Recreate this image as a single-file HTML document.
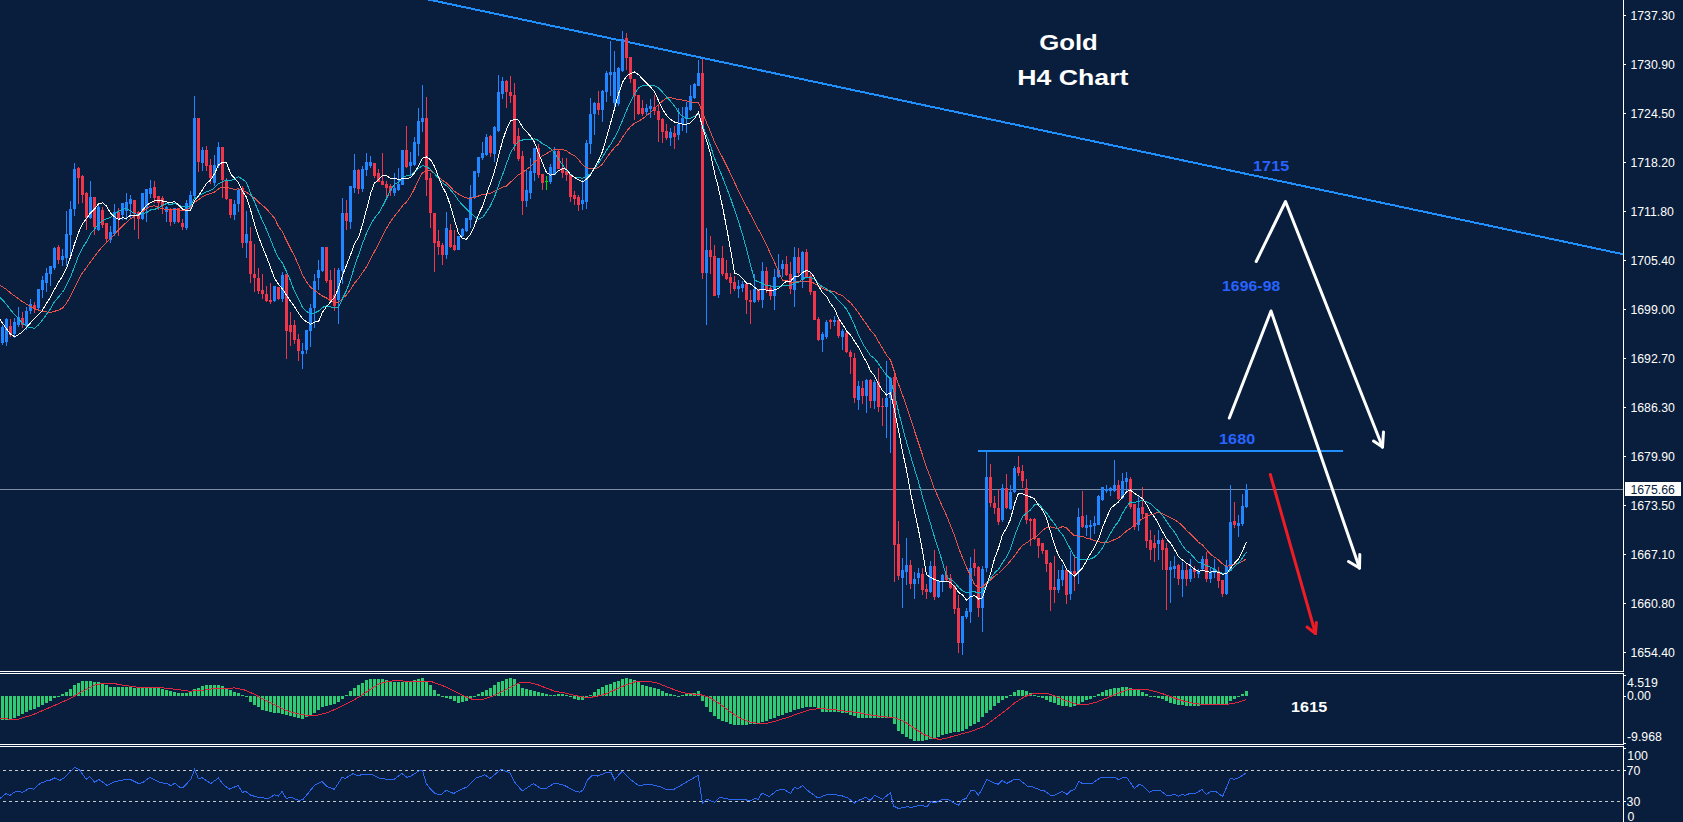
<!DOCTYPE html>
<html><head><meta charset="utf-8"><title>Gold H4 Chart</title>
<style>html,body{margin:0;padding:0;background:#081e3c;overflow:hidden}body{width:1683px;height:822px;font-family:"Liberation Sans",sans-serif}</style>
</head><body>
<svg width="1683" height="822" viewBox="0 0 1683 822" style="display:block">
<rect width="1683" height="822" fill="#081e3c"/>
<defs><clipPath id="cm"><rect x="0" y="0" width="1623" height="671"/></clipPath></defs>
<g clip-path="url(#cm)"><line x1="408" y1="-4.86" x2="1623" y2="254.2" stroke="#1e90ff" stroke-width="2" shape-rendering="crispEdges"/></g>
<rect x="978" y="450" width="365" height="2" fill="#1e90ff" shape-rendering="crispEdges"/>
<rect x="0" y="489" width="1623" height="1" fill="#7f8ea3" shape-rendering="crispEdges"/>
<g shape-rendering="crispEdges">
<rect x="2" y="325" width="1" height="20" fill="#2186ff"/>
<rect x="1" y="327" width="3" height="16" fill="#2186ff"/>
<rect x="6" y="318" width="1" height="28" fill="#2186ff"/>
<rect x="5" y="319" width="3" height="23" fill="#2186ff"/>
<rect x="10" y="319" width="1" height="18" fill="#f0364a"/>
<rect x="9" y="326" width="3" height="9" fill="#f0364a"/>
<rect x="14" y="318" width="1" height="20" fill="#2186ff"/>
<rect x="13" y="322" width="3" height="12" fill="#2186ff"/>
<rect x="18" y="307" width="1" height="20" fill="#2186ff"/>
<rect x="17" y="317" width="3" height="8" fill="#2186ff"/>
<rect x="22" y="312" width="1" height="16" fill="#f0364a"/>
<rect x="21" y="318" width="3" height="7" fill="#f0364a"/>
<rect x="26" y="307" width="1" height="23" fill="#2186ff"/>
<rect x="25" y="311" width="3" height="14" fill="#2186ff"/>
<rect x="30" y="299" width="1" height="15" fill="#2186ff"/>
<rect x="29" y="304" width="3" height="7" fill="#2186ff"/>
<rect x="34" y="302" width="1" height="11" fill="#f0364a"/>
<rect x="33" y="305" width="3" height="4" fill="#f0364a"/>
<rect x="38" y="289" width="1" height="22" fill="#2186ff"/>
<rect x="37" y="289" width="3" height="19" fill="#2186ff"/>
<rect x="42" y="276" width="1" height="22" fill="#2186ff"/>
<rect x="41" y="280" width="3" height="10" fill="#2186ff"/>
<rect x="46" y="268" width="1" height="24" fill="#2186ff"/>
<rect x="45" y="273" width="3" height="10" fill="#2186ff"/>
<rect x="50" y="266" width="1" height="20" fill="#2186ff"/>
<rect x="49" y="266" width="3" height="8" fill="#2186ff"/>
<rect x="54" y="247" width="1" height="23" fill="#2186ff"/>
<rect x="53" y="248" width="3" height="20" fill="#2186ff"/>
<rect x="58" y="245" width="1" height="19" fill="#f0364a"/>
<rect x="57" y="247" width="3" height="13" fill="#f0364a"/>
<rect x="62" y="249" width="1" height="17" fill="#2186ff"/>
<rect x="61" y="256" width="3" height="4" fill="#2186ff"/>
<rect x="66" y="211" width="1" height="55" fill="#2186ff"/>
<rect x="65" y="234" width="3" height="24" fill="#2186ff"/>
<rect x="70" y="201" width="1" height="57" fill="#2186ff"/>
<rect x="69" y="209" width="3" height="26" fill="#2186ff"/>
<rect x="74" y="163" width="1" height="53" fill="#2186ff"/>
<rect x="73" y="169" width="3" height="40" fill="#2186ff"/>
<rect x="78" y="167" width="1" height="37" fill="#f0364a"/>
<rect x="77" y="168" width="3" height="10" fill="#f0364a"/>
<rect x="82" y="175" width="1" height="28" fill="#f0364a"/>
<rect x="81" y="176" width="3" height="19" fill="#f0364a"/>
<rect x="86" y="192" width="1" height="38" fill="#f0364a"/>
<rect x="85" y="193" width="3" height="25" fill="#f0364a"/>
<rect x="90" y="181" width="1" height="38" fill="#2186ff"/>
<rect x="89" y="197" width="3" height="21" fill="#2186ff"/>
<rect x="94" y="197" width="1" height="38" fill="#f0364a"/>
<rect x="93" y="197" width="3" height="30" fill="#f0364a"/>
<rect x="98" y="205" width="1" height="26" fill="#2186ff"/>
<rect x="97" y="207" width="3" height="23" fill="#2186ff"/>
<rect x="102" y="207" width="1" height="21" fill="#f0364a"/>
<rect x="101" y="210" width="3" height="15" fill="#f0364a"/>
<rect x="106" y="223" width="1" height="19" fill="#f0364a"/>
<rect x="105" y="223" width="3" height="16" fill="#f0364a"/>
<rect x="110" y="226" width="1" height="17" fill="#2186ff"/>
<rect x="109" y="232" width="3" height="8" fill="#2186ff"/>
<rect x="114" y="204" width="1" height="32" fill="#2186ff"/>
<rect x="113" y="212" width="3" height="22" fill="#2186ff"/>
<rect x="118" y="208" width="1" height="28" fill="#f0364a"/>
<rect x="117" y="212" width="3" height="6" fill="#f0364a"/>
<rect x="122" y="203" width="1" height="17" fill="#2186ff"/>
<rect x="121" y="203" width="3" height="12" fill="#2186ff"/>
<rect x="126" y="193" width="1" height="27" fill="#2186ff"/>
<rect x="125" y="202" width="3" height="9" fill="#2186ff"/>
<rect x="130" y="195" width="1" height="23" fill="#2186ff"/>
<rect x="129" y="199" width="3" height="5" fill="#2186ff"/>
<rect x="134" y="200" width="1" height="30" fill="#f0364a"/>
<rect x="133" y="200" width="3" height="14" fill="#f0364a"/>
<rect x="138" y="211" width="1" height="28" fill="#f0364a"/>
<rect x="137" y="212" width="3" height="7" fill="#f0364a"/>
<rect x="142" y="193" width="1" height="27" fill="#2186ff"/>
<rect x="141" y="193" width="3" height="26" fill="#2186ff"/>
<rect x="146" y="189" width="1" height="33" fill="#2186ff"/>
<rect x="145" y="189" width="3" height="19" fill="#2186ff"/>
<rect x="150" y="180" width="1" height="18" fill="#2186ff"/>
<rect x="149" y="188" width="3" height="6" fill="#2186ff"/>
<rect x="154" y="181" width="1" height="22" fill="#f0364a"/>
<rect x="153" y="187" width="3" height="11" fill="#f0364a"/>
<rect x="158" y="196" width="1" height="14" fill="#f0364a"/>
<rect x="157" y="196" width="3" height="7" fill="#f0364a"/>
<rect x="162" y="196" width="1" height="18" fill="#f0364a"/>
<rect x="161" y="198" width="3" height="8" fill="#f0364a"/>
<rect x="166" y="206" width="1" height="16" fill="#2186ff"/>
<rect x="165" y="207" width="3" height="5" fill="#2186ff"/>
<rect x="170" y="208" width="1" height="18" fill="#f0364a"/>
<rect x="169" y="210" width="3" height="12" fill="#f0364a"/>
<rect x="174" y="208" width="1" height="16" fill="#2186ff"/>
<rect x="173" y="208" width="3" height="14" fill="#2186ff"/>
<rect x="178" y="208" width="1" height="15" fill="#f0364a"/>
<rect x="177" y="208" width="3" height="14" fill="#f0364a"/>
<rect x="182" y="219" width="1" height="11" fill="#f0364a"/>
<rect x="181" y="223" width="3" height="4" fill="#f0364a"/>
<rect x="186" y="200" width="1" height="30" fill="#2186ff"/>
<rect x="185" y="203" width="3" height="25" fill="#2186ff"/>
<rect x="190" y="191" width="1" height="20" fill="#2186ff"/>
<rect x="189" y="195" width="3" height="13" fill="#2186ff"/>
<rect x="194" y="96" width="1" height="102" fill="#2186ff"/>
<rect x="193" y="118" width="3" height="78" fill="#2186ff"/>
<rect x="198" y="118" width="1" height="54" fill="#f0364a"/>
<rect x="197" y="118" width="3" height="44" fill="#f0364a"/>
<rect x="202" y="147" width="1" height="24" fill="#2186ff"/>
<rect x="201" y="150" width="3" height="13" fill="#2186ff"/>
<rect x="206" y="146" width="1" height="25" fill="#f0364a"/>
<rect x="205" y="150" width="3" height="16" fill="#f0364a"/>
<rect x="210" y="159" width="1" height="25" fill="#f0364a"/>
<rect x="209" y="165" width="3" height="13" fill="#f0364a"/>
<rect x="214" y="155" width="1" height="31" fill="#2186ff"/>
<rect x="213" y="165" width="3" height="18" fill="#2186ff"/>
<rect x="218" y="142" width="1" height="26" fill="#2186ff"/>
<rect x="217" y="147" width="3" height="19" fill="#2186ff"/>
<rect x="222" y="147" width="1" height="51" fill="#f0364a"/>
<rect x="221" y="147" width="3" height="33" fill="#f0364a"/>
<rect x="226" y="178" width="1" height="22" fill="#f0364a"/>
<rect x="225" y="180" width="3" height="19" fill="#f0364a"/>
<rect x="230" y="199" width="1" height="19" fill="#f0364a"/>
<rect x="229" y="199" width="3" height="16" fill="#f0364a"/>
<rect x="234" y="200" width="1" height="20" fill="#2186ff"/>
<rect x="233" y="204" width="3" height="11" fill="#2186ff"/>
<rect x="238" y="188" width="1" height="24" fill="#2186ff"/>
<rect x="237" y="190" width="3" height="14" fill="#2186ff"/>
<rect x="242" y="186" width="1" height="62" fill="#f0364a"/>
<rect x="241" y="188" width="3" height="55" fill="#f0364a"/>
<rect x="246" y="211" width="1" height="47" fill="#2186ff"/>
<rect x="245" y="234" width="3" height="9" fill="#2186ff"/>
<rect x="250" y="227" width="1" height="56" fill="#f0364a"/>
<rect x="249" y="241" width="3" height="33" fill="#f0364a"/>
<rect x="254" y="244" width="1" height="48" fill="#f0364a"/>
<rect x="253" y="274" width="3" height="4" fill="#f0364a"/>
<rect x="258" y="268" width="1" height="26" fill="#f0364a"/>
<rect x="257" y="278" width="3" height="13" fill="#f0364a"/>
<rect x="262" y="274" width="1" height="25" fill="#f0364a"/>
<rect x="261" y="290" width="3" height="4" fill="#f0364a"/>
<rect x="266" y="286" width="1" height="16" fill="#f0364a"/>
<rect x="265" y="294" width="3" height="7" fill="#f0364a"/>
<rect x="270" y="283" width="1" height="21" fill="#f0364a"/>
<rect x="269" y="300" width="3" height="2" fill="#f0364a"/>
<rect x="274" y="286" width="1" height="16" fill="#2186ff"/>
<rect x="273" y="286" width="3" height="15" fill="#2186ff"/>
<rect x="278" y="287" width="1" height="13" fill="#f0364a"/>
<rect x="277" y="287" width="3" height="12" fill="#f0364a"/>
<rect x="282" y="272" width="1" height="30" fill="#2186ff"/>
<rect x="281" y="275" width="3" height="24" fill="#2186ff"/>
<rect x="286" y="274" width="1" height="85" fill="#f0364a"/>
<rect x="285" y="274" width="3" height="57" fill="#f0364a"/>
<rect x="290" y="312" width="1" height="34" fill="#f0364a"/>
<rect x="289" y="325" width="3" height="7" fill="#f0364a"/>
<rect x="294" y="320" width="1" height="24" fill="#f0364a"/>
<rect x="293" y="325" width="3" height="15" fill="#f0364a"/>
<rect x="298" y="334" width="1" height="27" fill="#f0364a"/>
<rect x="297" y="339" width="3" height="12" fill="#f0364a"/>
<rect x="302" y="343" width="1" height="26" fill="#2186ff"/>
<rect x="301" y="351" width="3" height="3" fill="#2186ff"/>
<rect x="306" y="330" width="1" height="24" fill="#2186ff"/>
<rect x="305" y="330" width="3" height="20" fill="#2186ff"/>
<rect x="310" y="304" width="1" height="43" fill="#2186ff"/>
<rect x="309" y="308" width="3" height="23" fill="#2186ff"/>
<rect x="314" y="274" width="1" height="54" fill="#2186ff"/>
<rect x="313" y="281" width="3" height="27" fill="#2186ff"/>
<rect x="318" y="260" width="1" height="30" fill="#2186ff"/>
<rect x="317" y="270" width="3" height="8" fill="#2186ff"/>
<rect x="322" y="247" width="1" height="25" fill="#2186ff"/>
<rect x="321" y="247" width="3" height="24" fill="#2186ff"/>
<rect x="326" y="247" width="1" height="36" fill="#f0364a"/>
<rect x="325" y="247" width="3" height="34" fill="#f0364a"/>
<rect x="330" y="270" width="1" height="32" fill="#f0364a"/>
<rect x="329" y="280" width="3" height="20" fill="#f0364a"/>
<rect x="334" y="268" width="1" height="43" fill="#f0364a"/>
<rect x="333" y="295" width="3" height="11" fill="#f0364a"/>
<rect x="338" y="268" width="1" height="56" fill="#2186ff"/>
<rect x="337" y="270" width="3" height="30" fill="#2186ff"/>
<rect x="342" y="198" width="1" height="86" fill="#2186ff"/>
<rect x="341" y="213" width="3" height="58" fill="#2186ff"/>
<rect x="346" y="200" width="1" height="30" fill="#f0364a"/>
<rect x="345" y="213" width="3" height="8" fill="#f0364a"/>
<rect x="350" y="186" width="1" height="43" fill="#2186ff"/>
<rect x="349" y="186" width="3" height="36" fill="#2186ff"/>
<rect x="354" y="154" width="1" height="39" fill="#2186ff"/>
<rect x="353" y="170" width="3" height="18" fill="#2186ff"/>
<rect x="358" y="169" width="1" height="25" fill="#f0364a"/>
<rect x="357" y="170" width="3" height="19" fill="#f0364a"/>
<rect x="362" y="166" width="1" height="26" fill="#2186ff"/>
<rect x="361" y="169" width="3" height="20" fill="#2186ff"/>
<rect x="366" y="153" width="1" height="23" fill="#2186ff"/>
<rect x="365" y="162" width="3" height="8" fill="#2186ff"/>
<rect x="370" y="156" width="1" height="12" fill="#2186ff"/>
<rect x="369" y="162" width="3" height="4" fill="#2186ff"/>
<rect x="374" y="163" width="1" height="15" fill="#f0364a"/>
<rect x="373" y="163" width="3" height="13" fill="#f0364a"/>
<rect x="378" y="169" width="1" height="13" fill="#f0364a"/>
<rect x="377" y="173" width="3" height="9" fill="#f0364a"/>
<rect x="382" y="153" width="1" height="32" fill="#f0364a"/>
<rect x="381" y="181" width="3" height="4" fill="#f0364a"/>
<rect x="386" y="181" width="1" height="16" fill="#f0364a"/>
<rect x="385" y="184" width="3" height="4" fill="#f0364a"/>
<rect x="390" y="184" width="1" height="12" fill="#f0364a"/>
<rect x="389" y="186" width="3" height="5" fill="#f0364a"/>
<rect x="394" y="173" width="1" height="23" fill="#2186ff"/>
<rect x="393" y="188" width="3" height="5" fill="#2186ff"/>
<rect x="398" y="168" width="1" height="23" fill="#2186ff"/>
<rect x="397" y="184" width="3" height="6" fill="#2186ff"/>
<rect x="402" y="150" width="1" height="35" fill="#2186ff"/>
<rect x="401" y="150" width="3" height="35" fill="#2186ff"/>
<rect x="406" y="126" width="1" height="42" fill="#f0364a"/>
<rect x="405" y="150" width="3" height="17" fill="#f0364a"/>
<rect x="410" y="152" width="1" height="24" fill="#2186ff"/>
<rect x="409" y="162" width="3" height="4" fill="#2186ff"/>
<rect x="414" y="137" width="1" height="29" fill="#2186ff"/>
<rect x="413" y="142" width="3" height="23" fill="#2186ff"/>
<rect x="418" y="108" width="1" height="48" fill="#2186ff"/>
<rect x="417" y="121" width="3" height="23" fill="#2186ff"/>
<rect x="422" y="85" width="1" height="47" fill="#2186ff"/>
<rect x="421" y="118" width="3" height="4" fill="#2186ff"/>
<rect x="426" y="97" width="1" height="99" fill="#f0364a"/>
<rect x="425" y="118" width="3" height="62" fill="#f0364a"/>
<rect x="430" y="173" width="1" height="55" fill="#f0364a"/>
<rect x="429" y="178" width="3" height="35" fill="#f0364a"/>
<rect x="434" y="213" width="1" height="59" fill="#f0364a"/>
<rect x="433" y="213" width="3" height="30" fill="#f0364a"/>
<rect x="438" y="230" width="1" height="25" fill="#f0364a"/>
<rect x="437" y="241" width="3" height="6" fill="#f0364a"/>
<rect x="442" y="243" width="1" height="22" fill="#f0364a"/>
<rect x="441" y="245" width="3" height="10" fill="#f0364a"/>
<rect x="446" y="212" width="1" height="47" fill="#2186ff"/>
<rect x="445" y="228" width="3" height="27" fill="#2186ff"/>
<rect x="450" y="224" width="1" height="24" fill="#f0364a"/>
<rect x="449" y="230" width="3" height="17" fill="#f0364a"/>
<rect x="454" y="230" width="1" height="21" fill="#f0364a"/>
<rect x="453" y="245" width="3" height="5" fill="#f0364a"/>
<rect x="458" y="236" width="1" height="14" fill="#2186ff"/>
<rect x="457" y="236" width="3" height="14" fill="#2186ff"/>
<rect x="462" y="228" width="1" height="9" fill="#2186ff"/>
<rect x="461" y="229" width="3" height="7" fill="#2186ff"/>
<rect x="466" y="218" width="1" height="14" fill="#2186ff"/>
<rect x="465" y="218" width="3" height="13" fill="#2186ff"/>
<rect x="470" y="185" width="1" height="43" fill="#2186ff"/>
<rect x="469" y="197" width="3" height="23" fill="#2186ff"/>
<rect x="474" y="171" width="1" height="28" fill="#2186ff"/>
<rect x="473" y="171" width="3" height="27" fill="#2186ff"/>
<rect x="478" y="157" width="1" height="20" fill="#2186ff"/>
<rect x="477" y="157" width="3" height="16" fill="#2186ff"/>
<rect x="482" y="142" width="1" height="18" fill="#2186ff"/>
<rect x="481" y="153" width="3" height="5" fill="#2186ff"/>
<rect x="486" y="134" width="1" height="22" fill="#2186ff"/>
<rect x="485" y="137" width="3" height="18" fill="#2186ff"/>
<rect x="490" y="135" width="1" height="22" fill="#f0364a"/>
<rect x="489" y="136" width="3" height="17" fill="#f0364a"/>
<rect x="494" y="126" width="1" height="36" fill="#2186ff"/>
<rect x="493" y="127" width="3" height="27" fill="#2186ff"/>
<rect x="498" y="75" width="1" height="57" fill="#2186ff"/>
<rect x="497" y="92" width="3" height="39" fill="#2186ff"/>
<rect x="502" y="77" width="1" height="22" fill="#2186ff"/>
<rect x="501" y="81" width="3" height="13" fill="#2186ff"/>
<rect x="506" y="80" width="1" height="28" fill="#f0364a"/>
<rect x="505" y="81" width="3" height="11" fill="#f0364a"/>
<rect x="510" y="76" width="1" height="27" fill="#f0364a"/>
<rect x="509" y="92" width="3" height="4" fill="#f0364a"/>
<rect x="514" y="83" width="1" height="68" fill="#f0364a"/>
<rect x="513" y="95" width="3" height="49" fill="#f0364a"/>
<rect x="518" y="128" width="1" height="33" fill="#f0364a"/>
<rect x="517" y="136" width="3" height="23" fill="#f0364a"/>
<rect x="522" y="151" width="1" height="64" fill="#f0364a"/>
<rect x="521" y="156" width="3" height="45" fill="#f0364a"/>
<rect x="526" y="170" width="1" height="37" fill="#2186ff"/>
<rect x="525" y="190" width="3" height="11" fill="#2186ff"/>
<rect x="530" y="158" width="1" height="41" fill="#2186ff"/>
<rect x="529" y="171" width="3" height="22" fill="#2186ff"/>
<rect x="534" y="148" width="1" height="33" fill="#2186ff"/>
<rect x="533" y="148" width="3" height="25" fill="#2186ff"/>
<rect x="538" y="144" width="1" height="34" fill="#f0364a"/>
<rect x="537" y="148" width="3" height="27" fill="#f0364a"/>
<rect x="542" y="174" width="1" height="16" fill="#f0364a"/>
<rect x="541" y="174" width="3" height="9" fill="#f0364a"/>
<rect x="546" y="176" width="1" height="14" fill="#00e000"/>
<rect x="545" y="181" width="3" height="1" fill="#00e000"/>
<rect x="550" y="164" width="1" height="20" fill="#2186ff"/>
<rect x="549" y="167" width="3" height="15" fill="#2186ff"/>
<rect x="554" y="147" width="1" height="28" fill="#2186ff"/>
<rect x="553" y="151" width="3" height="24" fill="#2186ff"/>
<rect x="558" y="150" width="1" height="19" fill="#f0364a"/>
<rect x="557" y="151" width="3" height="18" fill="#f0364a"/>
<rect x="562" y="158" width="1" height="20" fill="#f0364a"/>
<rect x="561" y="168" width="3" height="5" fill="#f0364a"/>
<rect x="566" y="158" width="1" height="23" fill="#f0364a"/>
<rect x="565" y="171" width="3" height="4" fill="#f0364a"/>
<rect x="570" y="174" width="1" height="28" fill="#f0364a"/>
<rect x="569" y="174" width="3" height="23" fill="#f0364a"/>
<rect x="574" y="191" width="1" height="14" fill="#f0364a"/>
<rect x="573" y="195" width="3" height="4" fill="#f0364a"/>
<rect x="578" y="195" width="1" height="16" fill="#f0364a"/>
<rect x="577" y="197" width="3" height="8" fill="#f0364a"/>
<rect x="582" y="180" width="1" height="30" fill="#2186ff"/>
<rect x="581" y="200" width="3" height="4" fill="#2186ff"/>
<rect x="586" y="140" width="1" height="69" fill="#2186ff"/>
<rect x="585" y="143" width="3" height="59" fill="#2186ff"/>
<rect x="590" y="98" width="1" height="56" fill="#2186ff"/>
<rect x="589" y="114" width="3" height="30" fill="#2186ff"/>
<rect x="594" y="102" width="1" height="33" fill="#2186ff"/>
<rect x="593" y="103" width="3" height="11" fill="#2186ff"/>
<rect x="598" y="91" width="1" height="24" fill="#f0364a"/>
<rect x="597" y="103" width="3" height="7" fill="#f0364a"/>
<rect x="602" y="90" width="1" height="32" fill="#2186ff"/>
<rect x="601" y="91" width="3" height="19" fill="#2186ff"/>
<rect x="606" y="71" width="1" height="31" fill="#2186ff"/>
<rect x="605" y="73" width="3" height="19" fill="#2186ff"/>
<rect x="610" y="41" width="1" height="55" fill="#2186ff"/>
<rect x="609" y="72" width="3" height="3" fill="#2186ff"/>
<rect x="614" y="51" width="1" height="60" fill="#2186ff"/>
<rect x="613" y="72" width="3" height="31" fill="#2186ff"/>
<rect x="618" y="67" width="1" height="39" fill="#2186ff"/>
<rect x="617" y="68" width="3" height="36" fill="#2186ff"/>
<rect x="622" y="31" width="1" height="41" fill="#2186ff"/>
<rect x="621" y="39" width="3" height="32" fill="#2186ff"/>
<rect x="626" y="33" width="1" height="37" fill="#f0364a"/>
<rect x="625" y="38" width="3" height="20" fill="#f0364a"/>
<rect x="630" y="57" width="1" height="26" fill="#f0364a"/>
<rect x="629" y="57" width="3" height="22" fill="#f0364a"/>
<rect x="634" y="79" width="1" height="41" fill="#f0364a"/>
<rect x="633" y="79" width="3" height="17" fill="#f0364a"/>
<rect x="638" y="95" width="1" height="20" fill="#f0364a"/>
<rect x="637" y="95" width="3" height="19" fill="#f0364a"/>
<rect x="642" y="100" width="1" height="16" fill="#f0364a"/>
<rect x="641" y="108" width="3" height="6" fill="#f0364a"/>
<rect x="646" y="104" width="1" height="12" fill="#2186ff"/>
<rect x="645" y="108" width="3" height="4" fill="#2186ff"/>
<rect x="650" y="99" width="1" height="19" fill="#2186ff"/>
<rect x="649" y="106" width="3" height="3" fill="#2186ff"/>
<rect x="654" y="95" width="1" height="20" fill="#f0364a"/>
<rect x="653" y="107" width="3" height="4" fill="#f0364a"/>
<rect x="658" y="104" width="1" height="38" fill="#f0364a"/>
<rect x="657" y="111" width="3" height="9" fill="#f0364a"/>
<rect x="662" y="118" width="1" height="25" fill="#f0364a"/>
<rect x="661" y="119" width="3" height="13" fill="#f0364a"/>
<rect x="666" y="124" width="1" height="16" fill="#f0364a"/>
<rect x="665" y="131" width="3" height="7" fill="#f0364a"/>
<rect x="670" y="128" width="1" height="18" fill="#2186ff"/>
<rect x="669" y="132" width="3" height="6" fill="#2186ff"/>
<rect x="674" y="126" width="1" height="23" fill="#f0364a"/>
<rect x="673" y="133" width="3" height="4" fill="#f0364a"/>
<rect x="678" y="108" width="1" height="32" fill="#2186ff"/>
<rect x="677" y="124" width="3" height="11" fill="#2186ff"/>
<rect x="682" y="107" width="1" height="24" fill="#2186ff"/>
<rect x="681" y="118" width="3" height="6" fill="#2186ff"/>
<rect x="686" y="102" width="1" height="31" fill="#2186ff"/>
<rect x="685" y="107" width="3" height="12" fill="#2186ff"/>
<rect x="690" y="85" width="1" height="26" fill="#2186ff"/>
<rect x="689" y="96" width="3" height="14" fill="#2186ff"/>
<rect x="694" y="83" width="1" height="16" fill="#2186ff"/>
<rect x="693" y="84" width="3" height="14" fill="#2186ff"/>
<rect x="698" y="60" width="1" height="26" fill="#2186ff"/>
<rect x="697" y="73" width="3" height="13" fill="#2186ff"/>
<rect x="702" y="59" width="1" height="220" fill="#f0364a"/>
<rect x="701" y="73" width="3" height="200" fill="#f0364a"/>
<rect x="706" y="228" width="1" height="97" fill="#2186ff"/>
<rect x="705" y="250" width="3" height="23" fill="#2186ff"/>
<rect x="710" y="236" width="1" height="38" fill="#f0364a"/>
<rect x="709" y="250" width="3" height="7" fill="#f0364a"/>
<rect x="714" y="245" width="1" height="51" fill="#f0364a"/>
<rect x="713" y="256" width="3" height="40" fill="#f0364a"/>
<rect x="718" y="258" width="1" height="40" fill="#2186ff"/>
<rect x="717" y="258" width="3" height="37" fill="#2186ff"/>
<rect x="722" y="246" width="1" height="30" fill="#f0364a"/>
<rect x="721" y="258" width="3" height="16" fill="#f0364a"/>
<rect x="726" y="260" width="1" height="20" fill="#f0364a"/>
<rect x="725" y="273" width="3" height="6" fill="#f0364a"/>
<rect x="730" y="273" width="1" height="21" fill="#f0364a"/>
<rect x="729" y="277" width="3" height="6" fill="#f0364a"/>
<rect x="734" y="276" width="1" height="15" fill="#f0364a"/>
<rect x="733" y="282" width="3" height="7" fill="#f0364a"/>
<rect x="738" y="280" width="1" height="18" fill="#2186ff"/>
<rect x="737" y="286" width="3" height="3" fill="#2186ff"/>
<rect x="742" y="281" width="1" height="11" fill="#2186ff"/>
<rect x="741" y="284" width="3" height="4" fill="#2186ff"/>
<rect x="746" y="284" width="1" height="30" fill="#f0364a"/>
<rect x="745" y="284" width="3" height="16" fill="#f0364a"/>
<rect x="750" y="290" width="1" height="34" fill="#f0364a"/>
<rect x="749" y="300" width="3" height="2" fill="#f0364a"/>
<rect x="754" y="274" width="1" height="29" fill="#2186ff"/>
<rect x="753" y="289" width="3" height="13" fill="#2186ff"/>
<rect x="758" y="289" width="1" height="13" fill="#f0364a"/>
<rect x="757" y="289" width="3" height="11" fill="#f0364a"/>
<rect x="762" y="262" width="1" height="46" fill="#2186ff"/>
<rect x="761" y="271" width="3" height="29" fill="#2186ff"/>
<rect x="766" y="267" width="1" height="26" fill="#f0364a"/>
<rect x="765" y="271" width="3" height="19" fill="#f0364a"/>
<rect x="770" y="285" width="1" height="15" fill="#f0364a"/>
<rect x="769" y="288" width="3" height="8" fill="#f0364a"/>
<rect x="774" y="269" width="1" height="41" fill="#2186ff"/>
<rect x="773" y="277" width="3" height="19" fill="#2186ff"/>
<rect x="778" y="254" width="1" height="24" fill="#2186ff"/>
<rect x="777" y="270" width="3" height="7" fill="#2186ff"/>
<rect x="782" y="260" width="1" height="17" fill="#2186ff"/>
<rect x="781" y="264" width="3" height="5" fill="#2186ff"/>
<rect x="786" y="256" width="1" height="20" fill="#f0364a"/>
<rect x="785" y="264" width="3" height="11" fill="#f0364a"/>
<rect x="790" y="262" width="1" height="32" fill="#f0364a"/>
<rect x="789" y="274" width="3" height="15" fill="#f0364a"/>
<rect x="794" y="247" width="1" height="60" fill="#2186ff"/>
<rect x="793" y="257" width="3" height="33" fill="#2186ff"/>
<rect x="798" y="248" width="1" height="28" fill="#f0364a"/>
<rect x="797" y="257" width="3" height="16" fill="#f0364a"/>
<rect x="802" y="251" width="1" height="37" fill="#2186ff"/>
<rect x="801" y="252" width="3" height="28" fill="#2186ff"/>
<rect x="806" y="249" width="1" height="29" fill="#f0364a"/>
<rect x="805" y="252" width="3" height="25" fill="#f0364a"/>
<rect x="810" y="272" width="1" height="23" fill="#f0364a"/>
<rect x="809" y="276" width="3" height="16" fill="#f0364a"/>
<rect x="814" y="291" width="1" height="29" fill="#f0364a"/>
<rect x="813" y="291" width="3" height="29" fill="#f0364a"/>
<rect x="818" y="317" width="1" height="24" fill="#f0364a"/>
<rect x="817" y="319" width="3" height="21" fill="#f0364a"/>
<rect x="822" y="332" width="1" height="20" fill="#2186ff"/>
<rect x="821" y="334" width="3" height="6" fill="#2186ff"/>
<rect x="826" y="320" width="1" height="19" fill="#2186ff"/>
<rect x="825" y="322" width="3" height="15" fill="#2186ff"/>
<rect x="830" y="319" width="1" height="10" fill="#f0364a"/>
<rect x="829" y="320" width="3" height="2" fill="#f0364a"/>
<rect x="834" y="316" width="1" height="10" fill="#2186ff"/>
<rect x="833" y="320" width="3" height="2" fill="#2186ff"/>
<rect x="838" y="318" width="1" height="20" fill="#f0364a"/>
<rect x="837" y="320" width="3" height="16" fill="#f0364a"/>
<rect x="842" y="329" width="1" height="21" fill="#2186ff"/>
<rect x="841" y="331" width="3" height="6" fill="#2186ff"/>
<rect x="846" y="330" width="1" height="23" fill="#f0364a"/>
<rect x="845" y="333" width="3" height="19" fill="#f0364a"/>
<rect x="850" y="350" width="1" height="24" fill="#f0364a"/>
<rect x="849" y="352" width="3" height="5" fill="#f0364a"/>
<rect x="854" y="353" width="1" height="50" fill="#f0364a"/>
<rect x="853" y="358" width="3" height="40" fill="#f0364a"/>
<rect x="858" y="381" width="1" height="29" fill="#2186ff"/>
<rect x="857" y="386" width="3" height="14" fill="#2186ff"/>
<rect x="862" y="381" width="1" height="23" fill="#f0364a"/>
<rect x="861" y="388" width="3" height="8" fill="#f0364a"/>
<rect x="866" y="379" width="1" height="34" fill="#2186ff"/>
<rect x="865" y="380" width="3" height="16" fill="#2186ff"/>
<rect x="870" y="379" width="1" height="29" fill="#f0364a"/>
<rect x="869" y="380" width="3" height="21" fill="#f0364a"/>
<rect x="874" y="380" width="1" height="29" fill="#2186ff"/>
<rect x="873" y="382" width="3" height="19" fill="#2186ff"/>
<rect x="878" y="368" width="1" height="44" fill="#f0364a"/>
<rect x="877" y="382" width="3" height="25" fill="#f0364a"/>
<rect x="882" y="398" width="1" height="28" fill="#f0364a"/>
<rect x="881" y="406" width="3" height="1" fill="#f0364a"/>
<rect x="886" y="361" width="1" height="77" fill="#2186ff"/>
<rect x="885" y="398" width="3" height="9" fill="#2186ff"/>
<rect x="890" y="377" width="1" height="76" fill="#2186ff"/>
<rect x="889" y="378" width="3" height="20" fill="#2186ff"/>
<rect x="894" y="374" width="1" height="208" fill="#f0364a"/>
<rect x="893" y="377" width="3" height="168" fill="#f0364a"/>
<rect x="898" y="521" width="1" height="59" fill="#f0364a"/>
<rect x="897" y="544" width="3" height="32" fill="#f0364a"/>
<rect x="902" y="558" width="1" height="50" fill="#2186ff"/>
<rect x="901" y="570" width="3" height="8" fill="#2186ff"/>
<rect x="906" y="538" width="1" height="47" fill="#2186ff"/>
<rect x="905" y="565" width="3" height="7" fill="#2186ff"/>
<rect x="910" y="560" width="1" height="29" fill="#f0364a"/>
<rect x="909" y="565" width="3" height="19" fill="#f0364a"/>
<rect x="914" y="572" width="1" height="27" fill="#2186ff"/>
<rect x="913" y="579" width="3" height="5" fill="#2186ff"/>
<rect x="918" y="568" width="1" height="16" fill="#2186ff"/>
<rect x="917" y="573" width="3" height="5" fill="#2186ff"/>
<rect x="922" y="568" width="1" height="27" fill="#f0364a"/>
<rect x="921" y="574" width="3" height="16" fill="#f0364a"/>
<rect x="926" y="584" width="1" height="15" fill="#f0364a"/>
<rect x="925" y="589" width="3" height="3" fill="#f0364a"/>
<rect x="930" y="561" width="1" height="32" fill="#2186ff"/>
<rect x="929" y="566" width="3" height="26" fill="#2186ff"/>
<rect x="934" y="550" width="1" height="50" fill="#f0364a"/>
<rect x="933" y="566" width="3" height="31" fill="#f0364a"/>
<rect x="938" y="580" width="1" height="18" fill="#2186ff"/>
<rect x="937" y="581" width="3" height="16" fill="#2186ff"/>
<rect x="942" y="574" width="1" height="18" fill="#2186ff"/>
<rect x="941" y="575" width="3" height="6" fill="#2186ff"/>
<rect x="946" y="566" width="1" height="16" fill="#f0364a"/>
<rect x="945" y="575" width="3" height="5" fill="#f0364a"/>
<rect x="950" y="574" width="1" height="15" fill="#f0364a"/>
<rect x="949" y="578" width="3" height="10" fill="#f0364a"/>
<rect x="954" y="585" width="1" height="29" fill="#f0364a"/>
<rect x="953" y="586" width="3" height="23" fill="#f0364a"/>
<rect x="958" y="595" width="1" height="58" fill="#f0364a"/>
<rect x="957" y="608" width="3" height="35" fill="#f0364a"/>
<rect x="962" y="616" width="1" height="39" fill="#2186ff"/>
<rect x="961" y="616" width="3" height="27" fill="#2186ff"/>
<rect x="966" y="608" width="1" height="11" fill="#2186ff"/>
<rect x="965" y="611" width="3" height="6" fill="#2186ff"/>
<rect x="970" y="557" width="1" height="66" fill="#2186ff"/>
<rect x="969" y="568" width="3" height="44" fill="#2186ff"/>
<rect x="974" y="549" width="1" height="27" fill="#f0364a"/>
<rect x="973" y="563" width="3" height="5" fill="#f0364a"/>
<rect x="978" y="566" width="1" height="51" fill="#f0364a"/>
<rect x="977" y="567" width="3" height="41" fill="#f0364a"/>
<rect x="982" y="566" width="1" height="66" fill="#2186ff"/>
<rect x="981" y="569" width="3" height="39" fill="#2186ff"/>
<rect x="986" y="451" width="1" height="121" fill="#2186ff"/>
<rect x="985" y="477" width="3" height="91" fill="#2186ff"/>
<rect x="990" y="464" width="1" height="43" fill="#f0364a"/>
<rect x="989" y="477" width="3" height="26" fill="#f0364a"/>
<rect x="994" y="496" width="1" height="18" fill="#f0364a"/>
<rect x="993" y="503" width="3" height="5" fill="#f0364a"/>
<rect x="998" y="489" width="1" height="36" fill="#f0364a"/>
<rect x="997" y="508" width="3" height="14" fill="#f0364a"/>
<rect x="1002" y="484" width="1" height="38" fill="#2186ff"/>
<rect x="1001" y="488" width="3" height="32" fill="#2186ff"/>
<rect x="1006" y="474" width="1" height="35" fill="#f0364a"/>
<rect x="1005" y="488" width="3" height="20" fill="#f0364a"/>
<rect x="1010" y="485" width="1" height="25" fill="#2186ff"/>
<rect x="1009" y="492" width="3" height="17" fill="#2186ff"/>
<rect x="1014" y="466" width="1" height="27" fill="#2186ff"/>
<rect x="1013" y="468" width="3" height="24" fill="#2186ff"/>
<rect x="1018" y="456" width="1" height="20" fill="#f0364a"/>
<rect x="1017" y="467" width="3" height="6" fill="#f0364a"/>
<rect x="1022" y="465" width="1" height="23" fill="#f0364a"/>
<rect x="1021" y="471" width="3" height="10" fill="#f0364a"/>
<rect x="1026" y="479" width="1" height="45" fill="#f0364a"/>
<rect x="1025" y="488" width="3" height="32" fill="#f0364a"/>
<rect x="1030" y="518" width="1" height="28" fill="#f0364a"/>
<rect x="1029" y="519" width="3" height="2" fill="#f0364a"/>
<rect x="1034" y="518" width="1" height="22" fill="#f0364a"/>
<rect x="1033" y="519" width="3" height="20" fill="#f0364a"/>
<rect x="1038" y="538" width="1" height="20" fill="#f0364a"/>
<rect x="1037" y="538" width="3" height="8" fill="#f0364a"/>
<rect x="1042" y="543" width="1" height="11" fill="#f0364a"/>
<rect x="1041" y="543" width="3" height="8" fill="#f0364a"/>
<rect x="1046" y="550" width="1" height="22" fill="#f0364a"/>
<rect x="1045" y="550" width="3" height="14" fill="#f0364a"/>
<rect x="1050" y="562" width="1" height="49" fill="#f0364a"/>
<rect x="1049" y="563" width="3" height="27" fill="#f0364a"/>
<rect x="1054" y="556" width="1" height="47" fill="#f0364a"/>
<rect x="1053" y="587" width="3" height="3" fill="#f0364a"/>
<rect x="1058" y="570" width="1" height="23" fill="#2186ff"/>
<rect x="1057" y="579" width="3" height="11" fill="#2186ff"/>
<rect x="1062" y="565" width="1" height="21" fill="#2186ff"/>
<rect x="1061" y="570" width="3" height="10" fill="#2186ff"/>
<rect x="1066" y="568" width="1" height="36" fill="#f0364a"/>
<rect x="1065" y="570" width="3" height="25" fill="#f0364a"/>
<rect x="1070" y="551" width="1" height="49" fill="#2186ff"/>
<rect x="1069" y="571" width="3" height="23" fill="#2186ff"/>
<rect x="1074" y="555" width="1" height="36" fill="#f0364a"/>
<rect x="1073" y="571" width="3" height="3" fill="#f0364a"/>
<rect x="1078" y="508" width="1" height="76" fill="#2186ff"/>
<rect x="1077" y="517" width="3" height="55" fill="#2186ff"/>
<rect x="1082" y="491" width="1" height="37" fill="#f0364a"/>
<rect x="1081" y="516" width="3" height="11" fill="#f0364a"/>
<rect x="1086" y="515" width="1" height="21" fill="#2186ff"/>
<rect x="1085" y="525" width="3" height="3" fill="#2186ff"/>
<rect x="1090" y="520" width="1" height="20" fill="#2186ff"/>
<rect x="1089" y="525" width="3" height="2" fill="#2186ff"/>
<rect x="1094" y="516" width="1" height="18" fill="#2186ff"/>
<rect x="1093" y="523" width="3" height="3" fill="#2186ff"/>
<rect x="1098" y="495" width="1" height="30" fill="#2186ff"/>
<rect x="1097" y="496" width="3" height="29" fill="#2186ff"/>
<rect x="1102" y="487" width="1" height="14" fill="#2186ff"/>
<rect x="1101" y="487" width="3" height="13" fill="#2186ff"/>
<rect x="1106" y="485" width="1" height="8" fill="#2186ff"/>
<rect x="1105" y="489" width="3" height="2" fill="#2186ff"/>
<rect x="1110" y="487" width="1" height="9" fill="#2186ff"/>
<rect x="1109" y="488" width="3" height="3" fill="#2186ff"/>
<rect x="1114" y="460" width="1" height="32" fill="#2186ff"/>
<rect x="1113" y="485" width="3" height="6" fill="#2186ff"/>
<rect x="1118" y="480" width="1" height="20" fill="#f0364a"/>
<rect x="1117" y="485" width="3" height="14" fill="#f0364a"/>
<rect x="1122" y="473" width="1" height="26" fill="#2186ff"/>
<rect x="1121" y="481" width="3" height="17" fill="#2186ff"/>
<rect x="1126" y="472" width="1" height="19" fill="#2186ff"/>
<rect x="1125" y="478" width="3" height="4" fill="#2186ff"/>
<rect x="1130" y="477" width="1" height="32" fill="#f0364a"/>
<rect x="1129" y="479" width="3" height="28" fill="#f0364a"/>
<rect x="1134" y="504" width="1" height="26" fill="#f0364a"/>
<rect x="1133" y="504" width="3" height="23" fill="#f0364a"/>
<rect x="1138" y="496" width="1" height="35" fill="#2186ff"/>
<rect x="1137" y="508" width="3" height="17" fill="#2186ff"/>
<rect x="1142" y="487" width="1" height="32" fill="#f0364a"/>
<rect x="1141" y="507" width="3" height="7" fill="#f0364a"/>
<rect x="1146" y="513" width="1" height="35" fill="#f0364a"/>
<rect x="1145" y="513" width="3" height="28" fill="#f0364a"/>
<rect x="1150" y="530" width="1" height="30" fill="#f0364a"/>
<rect x="1149" y="540" width="3" height="10" fill="#f0364a"/>
<rect x="1154" y="535" width="1" height="27" fill="#f0364a"/>
<rect x="1153" y="543" width="3" height="5" fill="#f0364a"/>
<rect x="1158" y="530" width="1" height="30" fill="#2186ff"/>
<rect x="1157" y="540" width="3" height="4" fill="#2186ff"/>
<rect x="1162" y="538" width="1" height="32" fill="#f0364a"/>
<rect x="1161" y="540" width="3" height="10" fill="#f0364a"/>
<rect x="1166" y="543" width="1" height="67" fill="#f0364a"/>
<rect x="1165" y="548" width="3" height="22" fill="#f0364a"/>
<rect x="1170" y="561" width="1" height="42" fill="#2186ff"/>
<rect x="1169" y="567" width="3" height="3" fill="#2186ff"/>
<rect x="1174" y="556" width="1" height="22" fill="#2186ff"/>
<rect x="1173" y="566" width="3" height="3" fill="#2186ff"/>
<rect x="1178" y="564" width="1" height="21" fill="#f0364a"/>
<rect x="1177" y="565" width="3" height="14" fill="#f0364a"/>
<rect x="1182" y="562" width="1" height="35" fill="#2186ff"/>
<rect x="1181" y="570" width="3" height="9" fill="#2186ff"/>
<rect x="1186" y="564" width="1" height="22" fill="#f0364a"/>
<rect x="1185" y="570" width="3" height="9" fill="#f0364a"/>
<rect x="1190" y="559" width="1" height="23" fill="#2186ff"/>
<rect x="1189" y="569" width="3" height="10" fill="#2186ff"/>
<rect x="1194" y="566" width="1" height="12" fill="#f0364a"/>
<rect x="1193" y="569" width="3" height="3" fill="#f0364a"/>
<rect x="1198" y="569" width="1" height="9" fill="#2186ff"/>
<rect x="1197" y="571" width="3" height="3" fill="#2186ff"/>
<rect x="1202" y="556" width="1" height="14" fill="#2186ff"/>
<rect x="1201" y="559" width="3" height="10" fill="#2186ff"/>
<rect x="1206" y="552" width="1" height="30" fill="#f0364a"/>
<rect x="1205" y="559" width="3" height="20" fill="#f0364a"/>
<rect x="1210" y="567" width="1" height="16" fill="#2186ff"/>
<rect x="1209" y="572" width="3" height="7" fill="#2186ff"/>
<rect x="1214" y="559" width="1" height="19" fill="#2186ff"/>
<rect x="1213" y="570" width="3" height="3" fill="#2186ff"/>
<rect x="1218" y="567" width="1" height="21" fill="#f0364a"/>
<rect x="1217" y="571" width="3" height="10" fill="#f0364a"/>
<rect x="1222" y="580" width="1" height="17" fill="#f0364a"/>
<rect x="1221" y="580" width="3" height="14" fill="#f0364a"/>
<rect x="1226" y="560" width="1" height="35" fill="#2186ff"/>
<rect x="1225" y="566" width="3" height="28" fill="#2186ff"/>
<rect x="1230" y="485" width="1" height="86" fill="#2186ff"/>
<rect x="1229" y="522" width="3" height="49" fill="#2186ff"/>
<rect x="1234" y="502" width="1" height="26" fill="#f0364a"/>
<rect x="1233" y="521" width="3" height="4" fill="#f0364a"/>
<rect x="1238" y="515" width="1" height="22" fill="#2186ff"/>
<rect x="1237" y="523" width="3" height="3" fill="#2186ff"/>
<rect x="1242" y="494" width="1" height="32" fill="#2186ff"/>
<rect x="1241" y="506" width="3" height="18" fill="#2186ff"/>
<rect x="1246" y="484" width="1" height="24" fill="#2186ff"/>
<rect x="1245" y="489" width="3" height="18" fill="#2186ff"/>
</g>
<polyline points="0.0,285.1 2.5,286.8 6.5,289.5 10.5,293.0 14.5,295.9 18.5,298.6 22.5,301.7 26.5,304.1 30.5,306.3 34.5,308.8 38.5,310.3 42.5,311.3 46.5,312.0 50.5,312.3 54.5,311.3 58.5,310.1 62.5,308.0 66.5,303.1 70.5,296.4 74.5,287.8 78.5,279.8 82.5,272.7 86.5,267.5 90.5,261.7 94.5,256.5 98.5,251.0 102.5,246.7 106.5,242.6 110.5,238.8 114.5,234.4 118.5,230.1 122.5,226.0 126.5,222.3 130.5,218.8 134.5,216.3 138.5,214.9 142.5,211.7 146.5,208.5 150.5,206.3 154.5,205.8 158.5,207.4 162.5,208.8 166.5,209.3 170.5,209.5 174.5,210.0 178.5,209.8 182.5,210.8 186.5,209.7 190.5,207.6 194.5,202.2 198.5,199.8 202.5,196.6 206.5,194.8 210.5,193.7 214.5,192.0 218.5,188.9 222.5,187.0 226.5,187.3 230.5,188.5 234.5,189.3 238.5,188.9 242.5,190.8 246.5,192.1 250.5,195.3 254.5,198.0 258.5,202.0 262.5,205.4 266.5,208.9 270.5,213.6 274.5,218.0 278.5,226.6 282.5,232.0 286.5,240.6 290.5,248.5 294.5,256.2 298.5,265.0 302.5,274.8 306.5,281.9 310.5,287.1 314.5,290.2 318.5,293.4 322.5,296.1 326.5,297.9 330.5,301.0 334.5,302.6 338.5,302.2 342.5,298.5 346.5,295.0 350.5,289.5 354.5,283.2 358.5,278.6 362.5,272.4 366.5,267.0 370.5,259.0 374.5,251.6 378.5,244.0 382.5,236.1 386.5,228.4 390.5,221.8 394.5,216.0 398.5,211.4 402.5,205.7 406.5,201.9 410.5,196.2 414.5,188.7 418.5,179.9 422.5,172.7 426.5,171.1 430.5,170.7 434.5,173.4 438.5,177.1 442.5,180.2 446.5,183.0 450.5,187.1 454.5,191.3 458.5,194.1 462.5,196.4 466.5,198.0 470.5,198.4 474.5,197.4 478.5,196.0 482.5,194.5 486.5,193.9 490.5,193.2 494.5,191.5 498.5,189.1 502.5,187.2 506.5,186.0 510.5,182.0 514.5,178.7 518.5,174.7 522.5,172.5 526.5,169.4 530.5,166.7 534.5,162.0 538.5,158.4 542.5,155.9 546.5,153.7 550.5,151.2 554.5,149.0 558.5,149.0 562.5,149.7 566.5,150.8 570.5,153.6 574.5,155.8 578.5,159.5 582.5,164.7 586.5,167.6 590.5,168.7 594.5,169.0 598.5,167.4 602.5,164.1 606.5,158.0 610.5,152.4 614.5,147.7 618.5,143.9 622.5,137.4 626.5,131.5 630.5,126.6 634.5,123.2 638.5,121.4 642.5,118.8 646.5,115.7 650.5,112.4 654.5,108.3 658.5,104.6 662.5,101.1 666.5,98.1 670.5,97.6 674.5,98.7 678.5,99.7 682.5,100.1 686.5,100.9 690.5,102.0 694.5,102.5 698.5,102.6 702.5,112.3 706.5,122.4 710.5,131.9 714.5,142.2 718.5,149.9 722.5,157.5 726.5,165.4 730.5,173.7 734.5,182.4 738.5,190.8 742.5,198.6 746.5,206.6 750.5,214.4 754.5,221.9 758.5,229.6 762.5,236.6 766.5,244.8 770.5,253.8 774.5,262.4 778.5,271.3 782.5,280.4 786.5,280.5 790.5,282.3 794.5,282.3 798.5,281.2 802.5,281.0 806.5,281.1 810.5,281.7 814.5,283.5 818.5,285.9 822.5,288.2 826.5,290.0 830.5,291.0 834.5,291.9 838.5,294.1 842.5,295.6 846.5,299.5 850.5,302.7 854.5,307.5 858.5,312.7 862.5,318.7 866.5,324.2 870.5,330.2 874.5,334.7 878.5,341.8 882.5,348.2 886.5,355.1 890.5,360.0 894.5,372.0 898.5,384.2 902.5,395.1 906.5,406.1 910.5,418.6 914.5,430.9 918.5,442.9 922.5,455.0 926.5,467.4 930.5,477.6 934.5,489.0 938.5,497.8 942.5,506.8 946.5,515.5 950.5,525.4 954.5,535.3 958.5,547.8 962.5,557.7 966.5,567.4 970.5,575.5 974.5,584.6 978.5,587.6 982.5,587.2 986.5,582.8 990.5,579.9 994.5,576.2 998.5,573.5 1002.5,569.5 1006.5,565.6 1010.5,560.8 1014.5,556.1 1018.5,550.2 1022.5,545.5 1026.5,542.9 1030.5,540.0 1034.5,537.7 1038.5,534.7 1042.5,530.3 1046.5,527.9 1050.5,526.9 1054.5,527.9 1058.5,528.4 1062.5,526.6 1066.5,527.9 1070.5,532.3 1074.5,535.7 1078.5,536.1 1082.5,536.4 1086.5,538.1 1090.5,539.0 1094.5,540.4 1098.5,541.8 1102.5,542.4 1106.5,542.8 1110.5,541.3 1114.5,539.6 1118.5,537.7 1122.5,534.6 1126.5,531.1 1130.5,528.4 1134.5,525.4 1138.5,521.5 1142.5,518.4 1146.5,517.0 1150.5,514.9 1154.5,513.8 1158.5,512.1 1162.5,513.7 1166.5,515.8 1170.5,517.8 1174.5,519.7 1178.5,522.4 1182.5,525.9 1186.5,530.3 1190.5,534.1 1194.5,538.1 1198.5,542.2 1202.5,545.0 1206.5,549.7 1210.5,554.2 1214.5,557.2 1218.5,559.8 1222.5,563.9 1226.5,566.3 1230.5,565.4 1234.5,564.2 1238.5,563.0 1242.5,561.4 1246.5,558.5" fill="none" stroke="#e5534b" stroke-width="1" shape-rendering="crispEdges"/>
<polyline points="0.0,297.3 2.5,300.0 6.5,304.4 10.5,309.9 14.5,314.5 18.5,318.6 22.5,323.3 26.5,326.4 30.5,327.7 34.5,328.2 38.5,324.9 42.5,319.9 46.5,314.4 50.5,308.7 54.5,301.8 58.5,297.0 62.5,292.5 66.5,285.3 70.5,277.2 74.5,266.6 78.5,256.1 82.5,247.9 86.5,241.7 90.5,233.7 94.5,229.3 98.5,224.1 102.5,220.6 106.5,218.7 110.5,217.6 114.5,214.1 118.5,211.4 122.5,209.2 126.5,208.7 130.5,210.9 134.5,213.4 138.5,215.1 142.5,213.4 146.5,212.8 150.5,210.0 154.5,209.4 158.5,207.8 162.5,205.4 166.5,203.6 170.5,204.4 174.5,203.6 178.5,205.0 182.5,206.8 186.5,207.1 190.5,205.7 194.5,198.5 198.5,196.3 202.5,193.5 206.5,191.9 210.5,190.5 214.5,187.8 218.5,183.6 222.5,181.6 226.5,180.0 230.5,180.5 234.5,179.2 238.5,176.6 242.5,179.4 246.5,182.2 250.5,193.4 254.5,201.6 258.5,211.7 262.5,220.9 266.5,229.6 270.5,239.4 274.5,249.4 278.5,257.9 282.5,263.3 286.5,271.6 290.5,280.7 294.5,291.4 298.5,299.1 302.5,307.5 306.5,311.5 310.5,313.6 314.5,312.9 318.5,311.2 322.5,307.4 326.5,305.9 330.5,306.9 334.5,307.4 338.5,307.0 342.5,298.6 346.5,290.6 350.5,279.6 354.5,266.7 358.5,255.1 362.5,243.6 366.5,233.2 370.5,224.7 374.5,218.0 378.5,213.4 382.5,206.5 386.5,198.5 390.5,190.3 394.5,184.4 398.5,182.4 402.5,177.3 406.5,175.9 410.5,175.4 414.5,172.0 418.5,168.6 422.5,165.4 426.5,166.7 430.5,169.4 434.5,173.7 438.5,178.1 442.5,182.9 446.5,185.6 450.5,189.8 454.5,194.5 458.5,200.6 462.5,205.1 466.5,209.1 470.5,213.0 474.5,216.6 478.5,219.4 482.5,217.4 486.5,212.0 490.5,205.6 494.5,197.0 498.5,185.4 502.5,174.9 506.5,163.8 510.5,152.8 514.5,146.2 518.5,141.2 522.5,140.0 526.5,139.5 530.5,139.5 534.5,138.9 538.5,140.4 542.5,143.7 546.5,145.8 550.5,148.6 554.5,152.9 558.5,159.1 562.5,164.9 566.5,170.6 570.5,174.4 574.5,177.2 578.5,177.5 582.5,178.2 586.5,176.2 590.5,173.8 594.5,168.6 598.5,163.4 602.5,156.9 606.5,150.2 610.5,144.6 614.5,137.6 618.5,130.1 622.5,120.4 626.5,110.5 630.5,101.9 634.5,94.1 638.5,88.0 642.5,85.9 646.5,85.5 650.5,85.7 654.5,85.8 658.5,87.9 662.5,92.1 666.5,96.8 670.5,101.1 674.5,106.0 678.5,112.1 682.5,116.4 686.5,118.4 690.5,118.4 694.5,116.2 698.5,113.3 702.5,125.1 706.5,135.4 710.5,145.8 714.5,158.4 718.5,167.4 722.5,177.1 726.5,187.6 730.5,198.0 734.5,209.8 738.5,221.8 742.5,234.4 746.5,249.0 750.5,264.6 754.5,280.0 758.5,281.9 762.5,283.4 766.5,285.8 770.5,285.8 774.5,287.1 778.5,286.9 782.5,285.8 786.5,285.2 790.5,285.2 794.5,283.1 798.5,282.4 802.5,278.9 806.5,277.1 810.5,277.4 814.5,278.8 818.5,283.7 822.5,286.9 826.5,288.7 830.5,291.9 834.5,295.5 838.5,300.6 842.5,304.6 846.5,309.1 850.5,316.3 854.5,325.2 858.5,334.8 862.5,343.3 866.5,349.6 870.5,355.4 874.5,358.4 878.5,363.6 882.5,369.6 886.5,375.1 890.5,379.2 894.5,394.1 898.5,411.6 902.5,427.2 906.5,442.1 910.5,455.4 914.5,469.1 918.5,481.8 922.5,496.8 926.5,510.4 930.5,523.6 934.5,537.1 938.5,549.6 942.5,562.2 946.5,576.6 950.5,579.7 954.5,582.1 958.5,587.3 962.5,590.9 966.5,592.9 970.5,592.1 974.5,591.7 978.5,593.0 982.5,591.4 986.5,585.0 990.5,578.3 994.5,573.1 998.5,569.3 1002.5,562.7 1006.5,557.0 1010.5,548.6 1014.5,536.1 1018.5,525.9 1022.5,516.6 1026.5,513.2 1030.5,509.9 1034.5,504.9 1038.5,503.3 1042.5,508.6 1046.5,512.9 1050.5,518.8 1054.5,523.6 1058.5,530.1 1062.5,534.6 1066.5,541.9 1070.5,549.3 1074.5,556.5 1078.5,559.1 1082.5,559.6 1086.5,559.9 1090.5,558.9 1094.5,557.2 1098.5,553.3 1102.5,547.8 1106.5,540.6 1110.5,533.3 1114.5,526.6 1118.5,521.5 1122.5,513.4 1126.5,506.7 1130.5,501.9 1134.5,502.6 1138.5,501.3 1142.5,500.5 1146.5,501.6 1150.5,503.6 1154.5,507.3 1158.5,511.1 1162.5,515.4 1166.5,521.3 1170.5,527.1 1174.5,531.9 1178.5,538.9 1182.5,545.5 1186.5,550.6 1190.5,553.6 1194.5,558.2 1198.5,562.3 1202.5,563.6 1206.5,565.6 1210.5,567.4 1214.5,569.5 1218.5,571.7 1222.5,573.4 1226.5,573.4 1230.5,570.2 1234.5,566.4 1238.5,563.0 1242.5,557.8 1246.5,552.1" fill="none" stroke="#11b8c8" stroke-width="1" shape-rendering="crispEdges"/>
<polyline points="0.0,319.6 2.5,323.1 6.5,328.8 10.5,334.3 14.5,336.6 18.5,334.6 22.5,331.8 26.5,327.4 30.5,322.8 34.5,318.8 38.5,314.6 42.5,310.2 46.5,303.3 50.5,297.1 54.5,289.4 58.5,282.2 62.5,276.1 66.5,268.3 70.5,257.2 74.5,243.9 78.5,232.6 82.5,223.9 86.5,218.6 90.5,212.9 94.5,209.2 98.5,203.8 102.5,202.8 106.5,206.1 110.5,213.1 114.5,216.9 118.5,219.4 122.5,217.8 126.5,218.3 130.5,215.2 134.5,216.0 138.5,215.3 142.5,210.2 146.5,205.4 150.5,202.8 154.5,200.6 158.5,200.6 162.5,201.0 166.5,201.9 170.5,202.8 174.5,201.6 178.5,204.8 182.5,209.0 186.5,210.7 190.5,210.3 194.5,200.9 198.5,196.0 202.5,189.7 206.5,183.4 210.5,180.1 214.5,173.8 218.5,164.9 222.5,162.3 226.5,162.8 230.5,173.6 234.5,178.2 238.5,182.7 242.5,191.2 246.5,197.4 250.5,209.6 254.5,224.1 258.5,236.4 262.5,247.0 266.5,256.6 270.5,267.4 274.5,278.1 278.5,284.3 282.5,288.9 286.5,295.2 290.5,301.2 294.5,306.7 298.5,313.0 302.5,318.6 306.5,321.7 310.5,324.1 314.5,322.1 318.5,321.6 322.5,312.2 326.5,306.6 330.5,302.1 334.5,297.1 338.5,288.1 342.5,275.1 346.5,265.4 350.5,254.9 354.5,243.8 358.5,237.3 362.5,224.9 366.5,209.6 370.5,193.6 374.5,183.1 378.5,179.7 382.5,175.7 386.5,175.9 390.5,178.2 394.5,178.1 398.5,179.8 402.5,178.4 406.5,179.0 410.5,177.4 414.5,173.0 418.5,165.9 422.5,158.1 426.5,156.9 430.5,159.7 434.5,166.2 438.5,177.0 442.5,186.8 446.5,194.1 450.5,205.8 454.5,220.1 458.5,233.2 462.5,238.7 466.5,239.2 470.5,234.1 474.5,225.7 478.5,214.8 482.5,206.4 486.5,194.2 490.5,183.4 494.5,171.3 498.5,156.1 502.5,140.9 506.5,129.2 510.5,120.9 514.5,119.4 518.5,120.1 522.5,127.2 526.5,131.3 530.5,136.2 534.5,142.4 538.5,152.9 542.5,163.0 546.5,172.6 550.5,175.1 554.5,174.2 558.5,170.7 562.5,168.8 566.5,169.2 570.5,174.7 574.5,177.3 578.5,179.8 582.5,181.8 586.5,179.1 590.5,175.0 594.5,167.7 598.5,160.7 602.5,151.3 606.5,137.6 610.5,123.4 614.5,108.7 618.5,94.0 622.5,82.4 626.5,76.2 630.5,73.6 634.5,72.0 638.5,74.6 642.5,79.1 646.5,83.1 650.5,86.9 654.5,91.7 658.5,100.7 662.5,108.9 666.5,115.4 670.5,119.4 674.5,122.0 678.5,123.1 682.5,124.2 686.5,124.3 690.5,122.7 694.5,118.7 698.5,112.1 702.5,127.1 706.5,140.2 710.5,153.6 714.5,172.7 718.5,188.2 722.5,206.8 726.5,227.1 730.5,249.2 734.5,273.2 738.5,274.7 742.5,278.4 746.5,283.2 750.5,283.9 754.5,287.3 758.5,290.2 762.5,289.3 766.5,290.1 770.5,290.9 774.5,289.9 778.5,288.3 782.5,284.3 786.5,281.3 790.5,281.3 794.5,276.6 798.5,276.8 802.5,272.6 806.5,270.4 810.5,272.1 814.5,277.7 818.5,286.1 822.5,292.7 826.5,296.3 830.5,303.6 834.5,308.8 838.5,318.1 842.5,324.1 846.5,330.8 850.5,334.9 854.5,341.3 858.5,347.1 862.5,355.3 866.5,361.8 870.5,370.8 874.5,375.9 878.5,384.3 882.5,390.4 886.5,395.0 890.5,392.8 894.5,410.4 898.5,430.4 902.5,451.6 906.5,469.8 910.5,492.2 914.5,511.3 918.5,529.8 922.5,551.1 926.5,574.9 930.5,577.2 934.5,579.6 938.5,580.8 942.5,581.9 946.5,581.4 950.5,582.4 954.5,586.4 958.5,592.3 962.5,595.0 966.5,600.0 970.5,596.8 974.5,595.3 978.5,599.0 982.5,597.8 986.5,585.4 990.5,573.7 994.5,558.7 998.5,548.2 1002.5,534.6 1006.5,527.9 1010.5,519.4 1014.5,503.9 1018.5,493.2 1022.5,493.7 1026.5,495.6 1030.5,497.0 1034.5,498.9 1038.5,505.3 1042.5,510.1 1046.5,518.1 1050.5,531.7 1054.5,544.7 1058.5,555.6 1062.5,561.1 1066.5,569.3 1070.5,572.9 1074.5,576.0 1078.5,572.2 1082.5,568.1 1086.5,560.9 1090.5,553.7 1094.5,547.4 1098.5,539.2 1102.5,527.2 1106.5,518.1 1110.5,508.6 1114.5,505.0 1118.5,501.9 1122.5,497.0 1126.5,491.8 1130.5,490.0 1134.5,493.4 1138.5,495.8 1142.5,498.6 1146.5,504.4 1150.5,511.7 1154.5,517.1 1158.5,523.7 1162.5,531.7 1166.5,538.7 1170.5,543.1 1174.5,549.6 1178.5,556.8 1182.5,560.0 1186.5,563.2 1190.5,565.6 1194.5,569.1 1198.5,571.4 1202.5,570.2 1206.5,571.6 1210.5,572.2 1214.5,571.2 1218.5,572.4 1222.5,574.1 1226.5,573.8 1230.5,568.2 1234.5,563.1 1238.5,559.1 1242.5,551.0 1246.5,541.8" fill="none" stroke="#ffffff" stroke-width="1" shape-rendering="crispEdges"/>
<polyline points="1256.2,261.5 1285.5,201.5 1382.5,447" fill="none" stroke="#ffffff" stroke-width="3" stroke-linejoin="round" stroke-linecap="round"/>
<line x1="1382.5" y1="447" x2="1383.5" y2="432" stroke="#ffffff" stroke-width="3" stroke-linecap="round"/>
<line x1="1382.5" y1="447" x2="1373.5" y2="441" stroke="#ffffff" stroke-width="3" stroke-linecap="round"/>
<polyline points="1229.3,418 1271,311 1359.5,568" fill="none" stroke="#ffffff" stroke-width="3" stroke-linejoin="round" stroke-linecap="round"/>
<line x1="1359.5" y1="568" x2="1359.8" y2="554.5" stroke="#ffffff" stroke-width="3" stroke-linecap="round"/>
<line x1="1359.5" y1="568" x2="1348.5" y2="561.5" stroke="#ffffff" stroke-width="3" stroke-linecap="round"/>
<polyline points="1270.3,474.5 1315.5,633.5" fill="none" stroke="#ee1c25" stroke-width="3" stroke-linejoin="round" stroke-linecap="round"/>
<line x1="1315.5" y1="633.5" x2="1316.4" y2="622.5" stroke="#ee1c25" stroke-width="3" stroke-linecap="round"/>
<line x1="1315.5" y1="633.5" x2="1307" y2="627" stroke="#ee1c25" stroke-width="3" stroke-linecap="round"/>
<text transform="translate(1068.5,50) scale(1.14,1)" font-family="Liberation Sans, sans-serif" font-size="22.6" font-weight="bold" fill="#ffffff" text-anchor="middle" letter-spacing="0">Gold</text>
<text transform="translate(1072.9,84.5) scale(1.18,1)" font-family="Liberation Sans, sans-serif" font-size="22.6" font-weight="bold" fill="#ffffff" text-anchor="middle" letter-spacing="0">H4 Chart</text>
<text transform="translate(1253,171) scale(1.15,1)" font-family="Liberation Sans, sans-serif" font-size="14" font-weight="bold" fill="#2864ff" text-anchor="start" letter-spacing="0.1">1715</text>
<text transform="translate(1222,291) scale(1.12,1)" font-family="Liberation Sans, sans-serif" font-size="14" font-weight="bold" fill="#2864ff" text-anchor="start" letter-spacing="0.1">1696-98</text>
<text transform="translate(1219,444) scale(1.15,1)" font-family="Liberation Sans, sans-serif" font-size="14" font-weight="bold" fill="#2864ff" text-anchor="start" letter-spacing="0.1">1680</text>
<text transform="translate(1291,712) scale(1.15,1)" font-family="Liberation Sans, sans-serif" font-size="14" font-weight="bold" fill="#ffffff" text-anchor="start" letter-spacing="0.1">1615</text>
<g shape-rendering="crispEdges">
<rect x="1" y="696" width="3" height="24" fill="#2fcb72"/>
<rect x="5" y="696" width="3" height="24" fill="#2fcb72"/>
<rect x="9" y="696" width="3" height="23" fill="#2fcb72"/>
<rect x="13" y="696" width="3" height="22" fill="#2fcb72"/>
<rect x="17" y="696" width="3" height="20" fill="#2fcb72"/>
<rect x="21" y="696" width="3" height="18" fill="#2fcb72"/>
<rect x="25" y="696" width="3" height="16" fill="#2fcb72"/>
<rect x="29" y="696" width="3" height="14" fill="#2fcb72"/>
<rect x="33" y="696" width="3" height="13" fill="#2fcb72"/>
<rect x="37" y="696" width="3" height="11" fill="#2fcb72"/>
<rect x="41" y="696" width="3" height="9" fill="#2fcb72"/>
<rect x="45" y="696" width="3" height="7" fill="#2fcb72"/>
<rect x="49" y="696" width="3" height="5" fill="#2fcb72"/>
<rect x="53" y="696" width="3" height="2" fill="#2fcb72"/>
<rect x="57" y="696" width="3" height="1" fill="#2fcb72"/>
<rect x="61" y="694" width="3" height="2" fill="#2fcb72"/>
<rect x="65" y="692" width="3" height="4" fill="#2fcb72"/>
<rect x="69" y="689" width="3" height="7" fill="#2fcb72"/>
<rect x="73" y="685" width="3" height="11" fill="#2fcb72"/>
<rect x="77" y="683" width="3" height="13" fill="#2fcb72"/>
<rect x="81" y="681" width="3" height="15" fill="#2fcb72"/>
<rect x="85" y="681" width="3" height="15" fill="#2fcb72"/>
<rect x="89" y="681" width="3" height="15" fill="#2fcb72"/>
<rect x="93" y="682" width="3" height="14" fill="#2fcb72"/>
<rect x="97" y="682" width="3" height="14" fill="#2fcb72"/>
<rect x="101" y="684" width="3" height="12" fill="#2fcb72"/>
<rect x="105" y="685" width="3" height="11" fill="#2fcb72"/>
<rect x="109" y="687" width="3" height="9" fill="#2fcb72"/>
<rect x="113" y="687" width="3" height="9" fill="#2fcb72"/>
<rect x="117" y="687" width="3" height="9" fill="#2fcb72"/>
<rect x="121" y="687" width="3" height="9" fill="#2fcb72"/>
<rect x="125" y="687" width="3" height="9" fill="#2fcb72"/>
<rect x="129" y="687" width="3" height="9" fill="#2fcb72"/>
<rect x="133" y="688" width="3" height="8" fill="#2fcb72"/>
<rect x="137" y="688" width="3" height="8" fill="#2fcb72"/>
<rect x="141" y="688" width="3" height="8" fill="#2fcb72"/>
<rect x="145" y="688" width="3" height="8" fill="#2fcb72"/>
<rect x="149" y="688" width="3" height="8" fill="#2fcb72"/>
<rect x="153" y="688" width="3" height="8" fill="#2fcb72"/>
<rect x="157" y="688" width="3" height="8" fill="#2fcb72"/>
<rect x="161" y="689" width="3" height="7" fill="#2fcb72"/>
<rect x="165" y="690" width="3" height="6" fill="#2fcb72"/>
<rect x="169" y="691" width="3" height="5" fill="#2fcb72"/>
<rect x="173" y="692" width="3" height="4" fill="#2fcb72"/>
<rect x="177" y="693" width="3" height="3" fill="#2fcb72"/>
<rect x="181" y="693" width="3" height="3" fill="#2fcb72"/>
<rect x="185" y="693" width="3" height="3" fill="#2fcb72"/>
<rect x="189" y="691" width="3" height="5" fill="#2fcb72"/>
<rect x="193" y="689" width="3" height="7" fill="#2fcb72"/>
<rect x="197" y="688" width="3" height="8" fill="#2fcb72"/>
<rect x="201" y="686" width="3" height="10" fill="#2fcb72"/>
<rect x="205" y="685" width="3" height="11" fill="#2fcb72"/>
<rect x="209" y="685" width="3" height="11" fill="#2fcb72"/>
<rect x="213" y="685" width="3" height="11" fill="#2fcb72"/>
<rect x="217" y="685" width="3" height="11" fill="#2fcb72"/>
<rect x="221" y="686" width="3" height="10" fill="#2fcb72"/>
<rect x="225" y="688" width="3" height="8" fill="#2fcb72"/>
<rect x="229" y="690" width="3" height="6" fill="#2fcb72"/>
<rect x="233" y="692" width="3" height="4" fill="#2fcb72"/>
<rect x="237" y="693" width="3" height="3" fill="#2fcb72"/>
<rect x="241" y="695" width="3" height="1" fill="#2fcb72"/>
<rect x="245" y="696" width="3" height="1" fill="#2fcb72"/>
<rect x="249" y="696" width="3" height="6" fill="#2fcb72"/>
<rect x="253" y="696" width="3" height="9" fill="#2fcb72"/>
<rect x="257" y="696" width="3" height="11" fill="#2fcb72"/>
<rect x="261" y="696" width="3" height="14" fill="#2fcb72"/>
<rect x="265" y="696" width="3" height="15" fill="#2fcb72"/>
<rect x="269" y="696" width="3" height="16" fill="#2fcb72"/>
<rect x="273" y="696" width="3" height="17" fill="#2fcb72"/>
<rect x="277" y="696" width="3" height="17" fill="#2fcb72"/>
<rect x="281" y="696" width="3" height="18" fill="#2fcb72"/>
<rect x="285" y="696" width="3" height="19" fill="#2fcb72"/>
<rect x="289" y="696" width="3" height="20" fill="#2fcb72"/>
<rect x="293" y="696" width="3" height="21" fill="#2fcb72"/>
<rect x="297" y="696" width="3" height="22" fill="#2fcb72"/>
<rect x="301" y="696" width="3" height="23" fill="#2fcb72"/>
<rect x="305" y="696" width="3" height="21" fill="#2fcb72"/>
<rect x="309" y="696" width="3" height="19" fill="#2fcb72"/>
<rect x="313" y="696" width="3" height="17" fill="#2fcb72"/>
<rect x="317" y="696" width="3" height="14" fill="#2fcb72"/>
<rect x="321" y="696" width="3" height="11" fill="#2fcb72"/>
<rect x="325" y="696" width="3" height="10" fill="#2fcb72"/>
<rect x="329" y="696" width="3" height="9" fill="#2fcb72"/>
<rect x="333" y="696" width="3" height="8" fill="#2fcb72"/>
<rect x="337" y="696" width="3" height="6" fill="#2fcb72"/>
<rect x="341" y="696" width="3" height="3" fill="#2fcb72"/>
<rect x="345" y="695" width="3" height="1" fill="#2fcb72"/>
<rect x="349" y="691" width="3" height="5" fill="#2fcb72"/>
<rect x="353" y="688" width="3" height="8" fill="#2fcb72"/>
<rect x="357" y="685" width="3" height="11" fill="#2fcb72"/>
<rect x="361" y="683" width="3" height="13" fill="#2fcb72"/>
<rect x="365" y="680" width="3" height="16" fill="#2fcb72"/>
<rect x="369" y="679" width="3" height="17" fill="#2fcb72"/>
<rect x="373" y="679" width="3" height="17" fill="#2fcb72"/>
<rect x="377" y="679" width="3" height="17" fill="#2fcb72"/>
<rect x="381" y="679" width="3" height="17" fill="#2fcb72"/>
<rect x="385" y="680" width="3" height="16" fill="#2fcb72"/>
<rect x="389" y="681" width="3" height="15" fill="#2fcb72"/>
<rect x="393" y="682" width="3" height="14" fill="#2fcb72"/>
<rect x="397" y="682" width="3" height="14" fill="#2fcb72"/>
<rect x="401" y="682" width="3" height="14" fill="#2fcb72"/>
<rect x="405" y="682" width="3" height="14" fill="#2fcb72"/>
<rect x="409" y="681" width="3" height="15" fill="#2fcb72"/>
<rect x="413" y="680" width="3" height="16" fill="#2fcb72"/>
<rect x="417" y="679" width="3" height="17" fill="#2fcb72"/>
<rect x="421" y="678" width="3" height="18" fill="#2fcb72"/>
<rect x="425" y="681" width="3" height="15" fill="#2fcb72"/>
<rect x="429" y="685" width="3" height="11" fill="#2fcb72"/>
<rect x="433" y="690" width="3" height="6" fill="#2fcb72"/>
<rect x="437" y="694" width="3" height="2" fill="#2fcb72"/>
<rect x="441" y="696" width="3" height="1" fill="#2fcb72"/>
<rect x="445" y="696" width="3" height="2" fill="#2fcb72"/>
<rect x="449" y="696" width="3" height="3" fill="#2fcb72"/>
<rect x="453" y="696" width="3" height="5" fill="#2fcb72"/>
<rect x="457" y="696" width="3" height="7" fill="#2fcb72"/>
<rect x="461" y="696" width="3" height="6" fill="#2fcb72"/>
<rect x="465" y="696" width="3" height="5" fill="#2fcb72"/>
<rect x="469" y="696" width="3" height="2" fill="#2fcb72"/>
<rect x="473" y="696" width="3" height="1" fill="#2fcb72"/>
<rect x="477" y="694" width="3" height="2" fill="#2fcb72"/>
<rect x="481" y="692" width="3" height="4" fill="#2fcb72"/>
<rect x="485" y="690" width="3" height="6" fill="#2fcb72"/>
<rect x="489" y="688" width="3" height="8" fill="#2fcb72"/>
<rect x="493" y="685" width="3" height="11" fill="#2fcb72"/>
<rect x="497" y="682" width="3" height="14" fill="#2fcb72"/>
<rect x="501" y="681" width="3" height="15" fill="#2fcb72"/>
<rect x="505" y="679" width="3" height="17" fill="#2fcb72"/>
<rect x="509" y="678" width="3" height="18" fill="#2fcb72"/>
<rect x="513" y="679" width="3" height="17" fill="#2fcb72"/>
<rect x="517" y="684" width="3" height="12" fill="#2fcb72"/>
<rect x="521" y="688" width="3" height="8" fill="#2fcb72"/>
<rect x="525" y="689" width="3" height="7" fill="#2fcb72"/>
<rect x="529" y="690" width="3" height="6" fill="#2fcb72"/>
<rect x="533" y="691" width="3" height="5" fill="#2fcb72"/>
<rect x="537" y="692" width="3" height="4" fill="#2fcb72"/>
<rect x="541" y="693" width="3" height="3" fill="#2fcb72"/>
<rect x="545" y="694" width="3" height="2" fill="#2fcb72"/>
<rect x="549" y="695" width="3" height="1" fill="#2fcb72"/>
<rect x="553" y="695" width="3" height="1" fill="#2fcb72"/>
<rect x="557" y="694" width="3" height="2" fill="#2fcb72"/>
<rect x="561" y="694" width="3" height="2" fill="#2fcb72"/>
<rect x="565" y="695" width="3" height="1" fill="#2fcb72"/>
<rect x="569" y="696" width="3" height="1" fill="#2fcb72"/>
<rect x="573" y="696" width="3" height="3" fill="#2fcb72"/>
<rect x="577" y="696" width="3" height="4" fill="#2fcb72"/>
<rect x="581" y="696" width="3" height="4" fill="#2fcb72"/>
<rect x="585" y="696" width="3" height="2" fill="#2fcb72"/>
<rect x="589" y="695" width="3" height="1" fill="#2fcb72"/>
<rect x="593" y="692" width="3" height="4" fill="#2fcb72"/>
<rect x="597" y="689" width="3" height="7" fill="#2fcb72"/>
<rect x="601" y="687" width="3" height="9" fill="#2fcb72"/>
<rect x="605" y="685" width="3" height="11" fill="#2fcb72"/>
<rect x="609" y="684" width="3" height="12" fill="#2fcb72"/>
<rect x="613" y="682" width="3" height="14" fill="#2fcb72"/>
<rect x="617" y="681" width="3" height="15" fill="#2fcb72"/>
<rect x="621" y="679" width="3" height="17" fill="#2fcb72"/>
<rect x="625" y="678" width="3" height="18" fill="#2fcb72"/>
<rect x="629" y="679" width="3" height="17" fill="#2fcb72"/>
<rect x="633" y="680" width="3" height="16" fill="#2fcb72"/>
<rect x="637" y="682" width="3" height="14" fill="#2fcb72"/>
<rect x="641" y="685" width="3" height="11" fill="#2fcb72"/>
<rect x="645" y="686" width="3" height="10" fill="#2fcb72"/>
<rect x="649" y="687" width="3" height="9" fill="#2fcb72"/>
<rect x="653" y="688" width="3" height="8" fill="#2fcb72"/>
<rect x="657" y="689" width="3" height="7" fill="#2fcb72"/>
<rect x="661" y="691" width="3" height="5" fill="#2fcb72"/>
<rect x="665" y="693" width="3" height="3" fill="#2fcb72"/>
<rect x="669" y="694" width="3" height="2" fill="#2fcb72"/>
<rect x="673" y="695" width="3" height="1" fill="#2fcb72"/>
<rect x="677" y="696" width="3" height="1" fill="#2fcb72"/>
<rect x="681" y="695" width="3" height="1" fill="#2fcb72"/>
<rect x="685" y="694" width="3" height="2" fill="#2fcb72"/>
<rect x="689" y="693" width="3" height="3" fill="#2fcb72"/>
<rect x="693" y="693" width="3" height="3" fill="#2fcb72"/>
<rect x="697" y="691" width="3" height="5" fill="#2fcb72"/>
<rect x="701" y="696" width="3" height="5" fill="#2fcb72"/>
<rect x="705" y="696" width="3" height="11" fill="#2fcb72"/>
<rect x="709" y="696" width="3" height="16" fill="#2fcb72"/>
<rect x="713" y="696" width="3" height="20" fill="#2fcb72"/>
<rect x="717" y="696" width="3" height="23" fill="#2fcb72"/>
<rect x="721" y="696" width="3" height="25" fill="#2fcb72"/>
<rect x="725" y="696" width="3" height="26" fill="#2fcb72"/>
<rect x="729" y="696" width="3" height="28" fill="#2fcb72"/>
<rect x="733" y="696" width="3" height="29" fill="#2fcb72"/>
<rect x="737" y="696" width="3" height="29" fill="#2fcb72"/>
<rect x="741" y="696" width="3" height="29" fill="#2fcb72"/>
<rect x="745" y="696" width="3" height="29" fill="#2fcb72"/>
<rect x="749" y="696" width="3" height="28" fill="#2fcb72"/>
<rect x="753" y="696" width="3" height="28" fill="#2fcb72"/>
<rect x="757" y="696" width="3" height="27" fill="#2fcb72"/>
<rect x="761" y="696" width="3" height="26" fill="#2fcb72"/>
<rect x="765" y="696" width="3" height="25" fill="#2fcb72"/>
<rect x="769" y="696" width="3" height="23" fill="#2fcb72"/>
<rect x="773" y="696" width="3" height="22" fill="#2fcb72"/>
<rect x="777" y="696" width="3" height="20" fill="#2fcb72"/>
<rect x="781" y="696" width="3" height="19" fill="#2fcb72"/>
<rect x="785" y="696" width="3" height="17" fill="#2fcb72"/>
<rect x="789" y="696" width="3" height="16" fill="#2fcb72"/>
<rect x="793" y="696" width="3" height="14" fill="#2fcb72"/>
<rect x="797" y="696" width="3" height="13" fill="#2fcb72"/>
<rect x="801" y="696" width="3" height="12" fill="#2fcb72"/>
<rect x="805" y="696" width="3" height="11" fill="#2fcb72"/>
<rect x="809" y="696" width="3" height="11" fill="#2fcb72"/>
<rect x="813" y="696" width="3" height="11" fill="#2fcb72"/>
<rect x="817" y="696" width="3" height="13" fill="#2fcb72"/>
<rect x="821" y="696" width="3" height="16" fill="#2fcb72"/>
<rect x="825" y="696" width="3" height="16" fill="#2fcb72"/>
<rect x="829" y="696" width="3" height="16" fill="#2fcb72"/>
<rect x="833" y="696" width="3" height="16" fill="#2fcb72"/>
<rect x="837" y="696" width="3" height="16" fill="#2fcb72"/>
<rect x="841" y="696" width="3" height="17" fill="#2fcb72"/>
<rect x="845" y="696" width="3" height="17" fill="#2fcb72"/>
<rect x="849" y="696" width="3" height="19" fill="#2fcb72"/>
<rect x="853" y="696" width="3" height="20" fill="#2fcb72"/>
<rect x="857" y="696" width="3" height="22" fill="#2fcb72"/>
<rect x="861" y="696" width="3" height="22" fill="#2fcb72"/>
<rect x="865" y="696" width="3" height="22" fill="#2fcb72"/>
<rect x="869" y="696" width="3" height="22" fill="#2fcb72"/>
<rect x="873" y="696" width="3" height="22" fill="#2fcb72"/>
<rect x="877" y="696" width="3" height="22" fill="#2fcb72"/>
<rect x="881" y="696" width="3" height="22" fill="#2fcb72"/>
<rect x="885" y="696" width="3" height="22" fill="#2fcb72"/>
<rect x="889" y="696" width="3" height="22" fill="#2fcb72"/>
<rect x="893" y="696" width="3" height="28" fill="#2fcb72"/>
<rect x="897" y="696" width="3" height="35" fill="#2fcb72"/>
<rect x="901" y="696" width="3" height="38" fill="#2fcb72"/>
<rect x="905" y="696" width="3" height="41" fill="#2fcb72"/>
<rect x="909" y="696" width="3" height="43" fill="#2fcb72"/>
<rect x="913" y="696" width="3" height="45" fill="#2fcb72"/>
<rect x="917" y="696" width="3" height="45" fill="#2fcb72"/>
<rect x="921" y="696" width="3" height="45" fill="#2fcb72"/>
<rect x="925" y="696" width="3" height="44" fill="#2fcb72"/>
<rect x="929" y="696" width="3" height="43" fill="#2fcb72"/>
<rect x="933" y="696" width="3" height="42" fill="#2fcb72"/>
<rect x="937" y="696" width="3" height="41" fill="#2fcb72"/>
<rect x="941" y="696" width="3" height="39" fill="#2fcb72"/>
<rect x="945" y="696" width="3" height="38" fill="#2fcb72"/>
<rect x="949" y="696" width="3" height="37" fill="#2fcb72"/>
<rect x="953" y="696" width="3" height="36" fill="#2fcb72"/>
<rect x="957" y="696" width="3" height="36" fill="#2fcb72"/>
<rect x="961" y="696" width="3" height="35" fill="#2fcb72"/>
<rect x="965" y="696" width="3" height="33" fill="#2fcb72"/>
<rect x="969" y="696" width="3" height="30" fill="#2fcb72"/>
<rect x="973" y="696" width="3" height="28" fill="#2fcb72"/>
<rect x="977" y="696" width="3" height="26" fill="#2fcb72"/>
<rect x="981" y="696" width="3" height="21" fill="#2fcb72"/>
<rect x="985" y="696" width="3" height="17" fill="#2fcb72"/>
<rect x="989" y="696" width="3" height="14" fill="#2fcb72"/>
<rect x="993" y="696" width="3" height="10" fill="#2fcb72"/>
<rect x="997" y="696" width="3" height="7" fill="#2fcb72"/>
<rect x="1001" y="696" width="3" height="4" fill="#2fcb72"/>
<rect x="1005" y="696" width="3" height="2" fill="#2fcb72"/>
<rect x="1009" y="695" width="3" height="1" fill="#2fcb72"/>
<rect x="1013" y="692" width="3" height="4" fill="#2fcb72"/>
<rect x="1017" y="690" width="3" height="6" fill="#2fcb72"/>
<rect x="1021" y="690" width="3" height="6" fill="#2fcb72"/>
<rect x="1025" y="691" width="3" height="5" fill="#2fcb72"/>
<rect x="1029" y="693" width="3" height="3" fill="#2fcb72"/>
<rect x="1033" y="695" width="3" height="1" fill="#2fcb72"/>
<rect x="1037" y="696" width="3" height="1" fill="#2fcb72"/>
<rect x="1041" y="696" width="3" height="2" fill="#2fcb72"/>
<rect x="1045" y="696" width="3" height="4" fill="#2fcb72"/>
<rect x="1049" y="696" width="3" height="6" fill="#2fcb72"/>
<rect x="1053" y="696" width="3" height="7" fill="#2fcb72"/>
<rect x="1057" y="696" width="3" height="9" fill="#2fcb72"/>
<rect x="1061" y="696" width="3" height="10" fill="#2fcb72"/>
<rect x="1065" y="696" width="3" height="10" fill="#2fcb72"/>
<rect x="1069" y="696" width="3" height="11" fill="#2fcb72"/>
<rect x="1073" y="696" width="3" height="10" fill="#2fcb72"/>
<rect x="1077" y="696" width="3" height="8" fill="#2fcb72"/>
<rect x="1081" y="696" width="3" height="6" fill="#2fcb72"/>
<rect x="1085" y="696" width="3" height="4" fill="#2fcb72"/>
<rect x="1089" y="696" width="3" height="3" fill="#2fcb72"/>
<rect x="1093" y="696" width="3" height="1" fill="#2fcb72"/>
<rect x="1097" y="694" width="3" height="2" fill="#2fcb72"/>
<rect x="1101" y="692" width="3" height="4" fill="#2fcb72"/>
<rect x="1105" y="690" width="3" height="6" fill="#2fcb72"/>
<rect x="1109" y="689" width="3" height="7" fill="#2fcb72"/>
<rect x="1113" y="688" width="3" height="8" fill="#2fcb72"/>
<rect x="1117" y="688" width="3" height="8" fill="#2fcb72"/>
<rect x="1121" y="687" width="3" height="9" fill="#2fcb72"/>
<rect x="1125" y="687" width="3" height="9" fill="#2fcb72"/>
<rect x="1129" y="688" width="3" height="8" fill="#2fcb72"/>
<rect x="1133" y="689" width="3" height="7" fill="#2fcb72"/>
<rect x="1137" y="690" width="3" height="6" fill="#2fcb72"/>
<rect x="1141" y="692" width="3" height="4" fill="#2fcb72"/>
<rect x="1145" y="694" width="3" height="2" fill="#2fcb72"/>
<rect x="1149" y="696" width="3" height="1" fill="#2fcb72"/>
<rect x="1153" y="696" width="3" height="1" fill="#2fcb72"/>
<rect x="1157" y="696" width="3" height="2" fill="#2fcb72"/>
<rect x="1161" y="696" width="3" height="3" fill="#2fcb72"/>
<rect x="1165" y="696" width="3" height="5" fill="#2fcb72"/>
<rect x="1169" y="696" width="3" height="7" fill="#2fcb72"/>
<rect x="1173" y="696" width="3" height="8" fill="#2fcb72"/>
<rect x="1177" y="696" width="3" height="9" fill="#2fcb72"/>
<rect x="1181" y="696" width="3" height="9" fill="#2fcb72"/>
<rect x="1185" y="696" width="3" height="10" fill="#2fcb72"/>
<rect x="1189" y="696" width="3" height="10" fill="#2fcb72"/>
<rect x="1193" y="696" width="3" height="10" fill="#2fcb72"/>
<rect x="1197" y="696" width="3" height="10" fill="#2fcb72"/>
<rect x="1201" y="696" width="3" height="9" fill="#2fcb72"/>
<rect x="1205" y="696" width="3" height="9" fill="#2fcb72"/>
<rect x="1209" y="696" width="3" height="9" fill="#2fcb72"/>
<rect x="1213" y="696" width="3" height="8" fill="#2fcb72"/>
<rect x="1217" y="696" width="3" height="8" fill="#2fcb72"/>
<rect x="1221" y="696" width="3" height="8" fill="#2fcb72"/>
<rect x="1225" y="696" width="3" height="8" fill="#2fcb72"/>
<rect x="1229" y="696" width="3" height="5" fill="#2fcb72"/>
<rect x="1233" y="696" width="3" height="3" fill="#2fcb72"/>
<rect x="1237" y="696" width="3" height="1" fill="#2fcb72"/>
<rect x="1241" y="694" width="3" height="2" fill="#2fcb72"/>
<rect x="1245" y="691" width="3" height="5" fill="#2fcb72"/>
</g>
<polyline points="0.0,718.7 17.5,719.4 32.4,714.9 49.9,707.4 69.9,698.7 82.4,691.2 94.8,685.0 104.8,683.2 114.8,683.7 124.8,685.5 139.8,687.5 159.7,687.5 174.7,689.2 189.7,691.2 204.6,690.0 217.1,688.2 234.6,688.0 244.6,690.0 254.6,694.4 264.5,699.9 274.5,704.9 284.5,709.9 297.0,713.7 309.5,715.7 319.4,714.9 329.4,711.9 339.4,707.4 349.4,702.4 359.4,696.9 369.4,690.0 379.3,683.7 389.3,681.2 399.3,680.5 410.0,682.0 422.5,681.2 432.5,682.0 442.4,685.5 452.4,690.0 462.4,695.4 472.4,699.4 482.4,699.4 492.4,696.2 502.3,691.2 512.3,686.2 519.8,682.5 527.3,682.0 537.3,684.5 544.8,687.5 554.7,691.2 564.7,693.0 574.7,695.4 584.7,697.4 594.7,696.9 604.7,694.4 614.6,690.0 624.6,685.5 634.6,682.0 647.1,681.2 657.1,683.0 667.1,687.0 677.0,690.7 687.0,693.7 699.5,694.4 709.5,697.4 719.5,703.7 729.4,711.2 739.4,717.9 749.4,721.9 759.4,723.6 769.4,722.9 779.4,719.9 789.3,716.9 799.3,713.2 809.3,709.9 816.8,708.9 820.0,708.7 832.5,709.4 845.0,711.2 857.4,712.4 869.9,714.9 882.4,716.7 893.6,717.4 902.4,720.4 912.3,726.9 922.3,733.6 932.3,738.1 939.8,739.4 947.3,737.9 959.8,734.4 972.2,731.1 984.7,726.1 994.7,718.7 1004.7,711.2 1014.7,702.9 1024.6,696.7 1034.6,693.2 1047.1,693.2 1057.1,696.9 1067.1,701.2 1077.1,704.4 1087.0,704.4 1097.0,701.9 1107.0,697.9 1117.0,693.7 1127.0,690.0 1136.9,689.2 1146.9,689.5 1150.0,690.2 1161.5,693.3 1172.9,697.5 1184.4,701.3 1195.8,703.8 1207.3,704.5 1226.4,704.5 1234.0,703.2 1241.7,701.3 1246.1,699.4" fill="none" stroke="#e0263c" stroke-width="1" shape-rendering="crispEdges"/>
<line x1="0" y1="770.5" x2="1623" y2="770.5" stroke="#c8c8c8" stroke-width="1" stroke-dasharray="3 3" stroke-dashoffset="-3" shape-rendering="crispEdges"/>
<line x1="0" y1="801.5" x2="1623" y2="801.5" stroke="#c8c8c8" stroke-width="1" stroke-dasharray="3 3" stroke-dashoffset="-3" shape-rendering="crispEdges"/>
<polyline points="0.0,798.5 6.2,793.5 10.0,795.3 16.2,791.0 22.5,792.3 29.9,788.0 33.7,789.3 39.9,783.5 46.2,781.0 49.9,780.3 54.9,777.8 59.9,780.3 64.9,777.3 74.9,767.3 79.9,770.3 86.1,779.3 89.8,776.6 94.8,782.3 98.6,779.3 107.3,785.5 114.8,781.5 127.3,779.3 131.0,779.8 138.5,783.5 142.3,782.8 149.7,777.3 161.0,782.8 167.2,783.5 171.0,786.0 174.7,783.0 179.7,787.3 183.4,787.3 190.9,779.1 194.7,769.3 198.4,778.6 202.1,777.8 210.9,783.5 218.4,778.1 223.4,784.8 229.6,789.0 238.3,785.5 242.1,792.3 245.8,791.5 250.8,795.3 258.3,797.3 268.3,798.5 274.5,794.8 278.3,796.0 282.0,791.5 286.2,798.5 290.7,797.3 299.5,800.5 303.2,799.3 314.4,785.5 321.9,781.5 326.9,786.5 334.4,789.3 341.9,777.8 345.6,778.1 353.1,773.6 358.1,776.1 361.9,774.3 371.8,774.3 379.3,778.1 386.8,779.3 394.3,779.3 401.8,773.6 406.8,777.3 410.0,776.6 418.7,771.1 422.5,770.6 426.2,783.5 430.0,788.5 435.0,793.5 441.2,794.8 446.2,790.3 453.7,793.5 458.7,790.5 467.4,786.8 476.1,778.1 484.9,774.8 489.9,778.6 501.1,769.3 509.8,772.8 514.8,782.3 522.3,791.0 533.5,783.5 539.8,788.0 546.0,788.5 554.7,783.0 564.7,785.5 574.7,791.0 579.7,792.3 583.4,789.8 587.2,780.3 592.2,775.3 597.2,776.1 607.2,772.3 610.9,772.3 614.6,779.8 622.1,771.1 630.9,779.8 638.4,785.5 649.6,784.3 659.6,786.5 667.1,789.8 674.5,789.0 698.2,775.3 702.5,803.5 707.0,799.3 714.5,802.3 719.5,797.3 729.4,799.3 744.4,799.3 749.4,801.0 755.6,798.5 758.1,799.3 761.9,793.0 769.4,796.5 776.9,790.5 783.1,789.0 790.6,793.5 794.3,787.3 798.1,789.0 802.3,785.5 809.3,791.8 818.0,798.0 820.0,797.3 827.5,794.3 835.0,794.8 841.2,795.5 847.5,797.8 854.4,803.0 859.9,799.8 866.2,797.3 869.9,800.5 874.9,795.3 882.4,799.3 890.4,792.8 893.6,806.0 898.6,808.5 907.3,806.8 912.3,807.3 919.8,805.3 927.3,806.5 931.1,801.5 934.8,802.8 942.3,799.3 948.5,799.8 958.5,805.3 962.3,799.8 966.0,798.5 971.0,790.5 974.7,790.5 978.5,795.3 982.2,788.5 986.7,779.3 992.2,782.3 998.4,784.3 1002.2,780.5 1006.7,783.5 1014.7,779.3 1019.7,779.8 1027.1,786.0 1032.1,786.8 1039.6,789.8 1044.6,791.0 1050.8,795.5 1054.6,795.3 1062.1,791.5 1067.1,794.3 1070.8,790.5 1074.6,789.8 1079.0,781.0 1082.0,783.5 1092.0,783.5 1100.8,777.3 1114.5,777.3 1119.0,779.8 1122.0,777.8 1127.0,777.8 1134.4,788.5 1139.4,784.3 1143.2,786.0 1149.4,792.3 1153.8,790.1 1159.5,790.1 1167.2,795.8 1174.8,794.5 1178.6,796.4 1181.5,794.5 1185.3,795.4 1190.1,793.3 1195.8,793.3 1201.9,789.5 1206.3,794.5 1211.1,791.1 1215.9,791.6 1222.6,796.4 1230.2,778.6 1234.0,779.2 1237.9,778.3 1245.5,773.3" fill="none" stroke="#2a66ee" stroke-width="1" shape-rendering="crispEdges"/>
<g shape-rendering="crispEdges" fill="#ffffff">
<rect x="0" y="671" width="1624" height="1"/>
<rect x="0" y="673" width="1624" height="1"/>
<rect x="0" y="744" width="1624" height="1"/>
<rect x="0" y="746" width="1624" height="1"/>
<rect x="1623" y="0" width="1" height="672"/>
<rect x="1623" y="673" width="1" height="72"/>
<rect x="1623" y="746" width="1" height="76"/>
<rect x="1624" y="675" width="2" height="1"/>
<rect x="1624" y="743" width="2" height="1"/>
<rect x="1624" y="748" width="2" height="1"/>
<rect x="1624" y="15" width="2" height="1"/>
<rect x="1624" y="64" width="2" height="1"/>
<rect x="1624" y="113" width="2" height="1"/>
<rect x="1624" y="162" width="2" height="1"/>
<rect x="1624" y="211" width="2" height="1"/>
<rect x="1624" y="260" width="2" height="1"/>
<rect x="1624" y="309" width="2" height="1"/>
<rect x="1624" y="358" width="2" height="1"/>
<rect x="1624" y="407" width="2" height="1"/>
<rect x="1624" y="456" width="2" height="1"/>
<rect x="1624" y="505" width="2" height="1"/>
<rect x="1624" y="554" width="2" height="1"/>
<rect x="1624" y="603" width="2" height="1"/>
<rect x="1624" y="652" width="2" height="1"/>
<rect x="1624" y="696" width="2" height="1"/>
<rect x="1624" y="770" width="2" height="1"/>
<rect x="1624" y="801" width="2" height="1"/>
</g>
<text transform="translate(1630.4,20.0) scale(1,1)" font-family="Liberation Sans, sans-serif" font-size="12.3" font-weight="normal" fill="#ffffff" text-anchor="start" letter-spacing="0">1737.30</text>
<text transform="translate(1630.4,69.0) scale(1,1)" font-family="Liberation Sans, sans-serif" font-size="12.3" font-weight="normal" fill="#ffffff" text-anchor="start" letter-spacing="0">1730.90</text>
<text transform="translate(1630.4,118.0) scale(1,1)" font-family="Liberation Sans, sans-serif" font-size="12.3" font-weight="normal" fill="#ffffff" text-anchor="start" letter-spacing="0">1724.50</text>
<text transform="translate(1630.4,167.0) scale(1,1)" font-family="Liberation Sans, sans-serif" font-size="12.3" font-weight="normal" fill="#ffffff" text-anchor="start" letter-spacing="0">1718.20</text>
<text transform="translate(1630.4,216.0) scale(1,1)" font-family="Liberation Sans, sans-serif" font-size="12.3" font-weight="normal" fill="#ffffff" text-anchor="start" letter-spacing="0">1711.80</text>
<text transform="translate(1630.4,265.0) scale(1,1)" font-family="Liberation Sans, sans-serif" font-size="12.3" font-weight="normal" fill="#ffffff" text-anchor="start" letter-spacing="0">1705.40</text>
<text transform="translate(1630.4,314.0) scale(1,1)" font-family="Liberation Sans, sans-serif" font-size="12.3" font-weight="normal" fill="#ffffff" text-anchor="start" letter-spacing="0">1699.00</text>
<text transform="translate(1630.4,363.0) scale(1,1)" font-family="Liberation Sans, sans-serif" font-size="12.3" font-weight="normal" fill="#ffffff" text-anchor="start" letter-spacing="0">1692.70</text>
<text transform="translate(1630.4,412.0) scale(1,1)" font-family="Liberation Sans, sans-serif" font-size="12.3" font-weight="normal" fill="#ffffff" text-anchor="start" letter-spacing="0">1686.30</text>
<text transform="translate(1630.4,461.0) scale(1,1)" font-family="Liberation Sans, sans-serif" font-size="12.3" font-weight="normal" fill="#ffffff" text-anchor="start" letter-spacing="0">1679.90</text>
<text transform="translate(1630.4,510.0) scale(1,1)" font-family="Liberation Sans, sans-serif" font-size="12.3" font-weight="normal" fill="#ffffff" text-anchor="start" letter-spacing="0">1673.50</text>
<text transform="translate(1630.4,559.0) scale(1,1)" font-family="Liberation Sans, sans-serif" font-size="12.3" font-weight="normal" fill="#ffffff" text-anchor="start" letter-spacing="0">1667.10</text>
<text transform="translate(1630.4,608.0) scale(1,1)" font-family="Liberation Sans, sans-serif" font-size="12.3" font-weight="normal" fill="#ffffff" text-anchor="start" letter-spacing="0">1660.80</text>
<text transform="translate(1630.4,657.0) scale(1,1)" font-family="Liberation Sans, sans-serif" font-size="12.3" font-weight="normal" fill="#ffffff" text-anchor="start" letter-spacing="0">1654.40</text>
<rect x="1625" y="482" width="56" height="14" fill="#ffffff" shape-rendering="crispEdges"/>
<text transform="translate(1630.4,494) scale(1,1)" font-family="Liberation Sans, sans-serif" font-size="12.3" font-weight="normal" fill="#081e3c" text-anchor="start" letter-spacing="0">1675.66</text>
<text transform="translate(1627,686.7) scale(1,1)" font-family="Liberation Sans, sans-serif" font-size="12.3" font-weight="normal" fill="#ffffff" text-anchor="start" letter-spacing="0">4.519</text>
<text transform="translate(1627,700.3) scale(1,1)" font-family="Liberation Sans, sans-serif" font-size="12.3" font-weight="normal" fill="#ffffff" text-anchor="start" letter-spacing="0">0.00</text>
<text transform="translate(1627,740.5) scale(1,1)" font-family="Liberation Sans, sans-serif" font-size="12.3" font-weight="normal" fill="#ffffff" text-anchor="start" letter-spacing="0">-9.968</text>
<text transform="translate(1627.3,760) scale(1,1)" font-family="Liberation Sans, sans-serif" font-size="12.3" font-weight="normal" fill="#ffffff" text-anchor="start" letter-spacing="0">100</text>
<text transform="translate(1626.6,774.6) scale(1,1)" font-family="Liberation Sans, sans-serif" font-size="12.3" font-weight="normal" fill="#ffffff" text-anchor="start" letter-spacing="0">70</text>
<text transform="translate(1626.6,805.6) scale(1,1)" font-family="Liberation Sans, sans-serif" font-size="12.3" font-weight="normal" fill="#ffffff" text-anchor="start" letter-spacing="0">30</text>
<text transform="translate(1627.6,821.2) scale(1,1)" font-family="Liberation Sans, sans-serif" font-size="12.3" font-weight="normal" fill="#ffffff" text-anchor="start" letter-spacing="0">0</text>
</svg>
</body></html>
